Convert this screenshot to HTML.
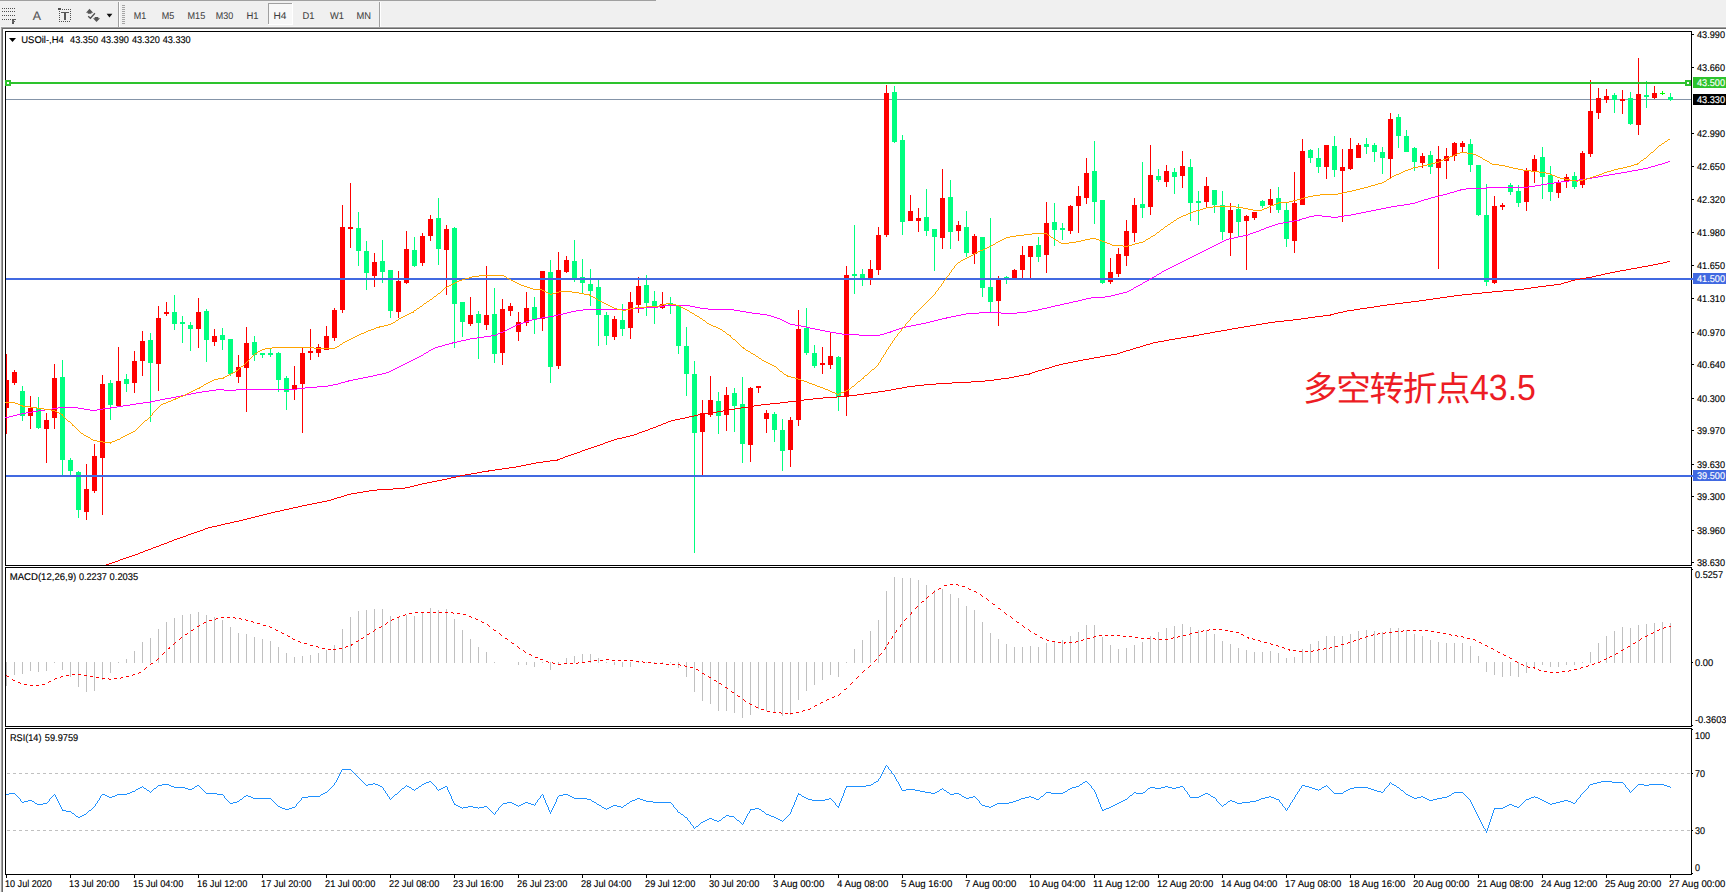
<!DOCTYPE html>
<html lang="zh"><head><meta charset="utf-8"><title>USOil H4</title>
<style>html,body{margin:0;padding:0;background:#fff;overflow:hidden}svg{display:block}text{font-family:"Liberation Sans", sans-serif;white-space:pre;text-rendering:geometricPrecision}</style>
</head><body>
<svg width="1726" height="892" viewBox="0 0 1726 892">
<rect width="1726" height="892" fill="#ffffff"/>
<g shape-rendering="crispEdges">
<rect x="0" y="0" width="1726" height="27" fill="#f0f0f0"/>
<rect x="0" y="0" width="656" height="1" fill="#a0a0a0"/>
<rect x="0" y="26" width="1726" height="1" fill="#f6f6f6"/>
<rect x="0" y="27" width="1726" height="1" fill="#a0a0a0"/>
<rect x="0" y="28" width="1726" height="1" fill="#696969"/>
<rect x="0" y="27" width="1" height="865" fill="#f0f0f0"/>
<rect x="1" y="27" width="1" height="865" fill="#a0a0a0"/>
<rect x="2" y="28" width="1" height="864" fill="#696969"/>
<rect x="118" y="2" width="1" height="25" fill="#a0a0a0"/>
<rect x="119" y="2" width="1" height="25" fill="#ffffff"/>
<rect x="379" y="2" width="1" height="25" fill="#a0a0a0"/>
<rect x="380" y="2" width="1" height="25" fill="#ffffff"/>
<rect x="122" y="5" width="3" height="1" fill="#a4a4a4"/>
<rect x="122" y="7" width="3" height="1" fill="#a4a4a4"/>
<rect x="122" y="9" width="3" height="1" fill="#a4a4a4"/>
<rect x="122" y="11" width="3" height="1" fill="#a4a4a4"/>
<rect x="122" y="13" width="3" height="1" fill="#a4a4a4"/>
<rect x="122" y="15" width="3" height="1" fill="#a4a4a4"/>
<rect x="122" y="17" width="3" height="1" fill="#a4a4a4"/>
<rect x="122" y="19" width="3" height="1" fill="#a4a4a4"/>
<rect x="122" y="21" width="3" height="1" fill="#a4a4a4"/>
<rect x="122" y="23" width="3" height="1" fill="#a4a4a4"/>
<rect x="268" y="3" width="25" height="22" fill="#f8f8f8"/>
<rect x="268" y="3" width="25" height="1" fill="#a0a0a0"/>
<rect x="268" y="3" width="1" height="22" fill="#a0a0a0"/>
<rect x="292" y="3" width="1" height="22" fill="#ffffff"/>
<rect x="268" y="24" width="25" height="1" fill="#ffffff"/>
</g>
<g shape-rendering="crispEdges" fill="#505050">
<rect x="2" y="8" width="1" height="1"/>
<rect x="4" y="8" width="1" height="1"/>
<rect x="6" y="8" width="1" height="1"/>
<rect x="8" y="8" width="1" height="1"/>
<rect x="10" y="8" width="1" height="1"/>
<rect x="12" y="8" width="1" height="1"/>
<rect x="14" y="8" width="1" height="1"/>
<rect x="2" y="11" width="1" height="1"/>
<rect x="4" y="11" width="1" height="1"/>
<rect x="6" y="11" width="1" height="1"/>
<rect x="8" y="11" width="1" height="1"/>
<rect x="10" y="11" width="1" height="1"/>
<rect x="12" y="11" width="1" height="1"/>
<rect x="14" y="11" width="1" height="1"/>
<rect x="2" y="15" width="1" height="1"/>
<rect x="4" y="15" width="1" height="1"/>
<rect x="6" y="15" width="1" height="1"/>
<rect x="8" y="15" width="1" height="1"/>
<rect x="10" y="15" width="1" height="1"/>
<rect x="12" y="15" width="1" height="1"/>
<rect x="14" y="15" width="1" height="1"/>
<rect x="2" y="19" width="1" height="1"/>
<rect x="4" y="19" width="1" height="1"/>
<rect x="6" y="19" width="1" height="1"/>
<rect x="8" y="19" width="1" height="1"/>
<rect x="10" y="19" width="1" height="1"/>
<rect x="12" y="19" width="2" height="5" fill="#585858"/><rect x="12" y="19" width="4" height="1" fill="#585858"/><rect x="12" y="21" width="3" height="1" fill="#686868"/>
<rect x="62" y="9" width="1" height="1"/>
<rect x="64" y="9" width="1" height="1"/>
<rect x="66" y="9" width="1" height="1"/>
<rect x="68" y="9" width="1" height="1"/>
<rect x="70" y="9" width="1" height="1"/>
<rect x="58" y="8" width="3" height="2"/>
<rect x="59" y="11" width="1" height="1"/>
<rect x="59" y="13" width="1" height="1"/>
<rect x="59" y="15" width="1" height="1"/>
<rect x="59" y="17" width="1" height="1"/>
<rect x="59" y="19" width="1" height="1"/>
<rect x="59" y="21" width="1" height="1"/>
<rect x="70" y="11" width="1" height="1"/>
<rect x="70" y="13" width="1" height="1"/>
<rect x="70" y="15" width="1" height="1"/>
<rect x="70" y="17" width="1" height="1"/>
<rect x="70" y="19" width="1" height="1"/>
<rect x="61" y="21" width="1" height="1"/>
<rect x="63" y="21" width="1" height="1"/>
<rect x="65" y="21" width="1" height="1"/>
<rect x="67" y="21" width="1" height="1"/>
<rect x="69" y="21" width="1" height="1"/>
<rect x="61" y="12" width="8" height="1" fill="#585858"/><rect x="64" y="12" width="2" height="8" fill="#585858"/>
</g>
<path d="M89.5 8.8 L93.2 12.7 L91.4 12.7 L91.4 13.8 L87.8 13.8 L87.8 12.7 L86 12.7 Z" fill="#555"/>
<path d="M96.5 21.9 L100.1 18.2 L98.3 18.2 L98.3 17.1 L94.7 17.1 L94.7 18.2 L93 18.2 Z" fill="#555"/>
<path d="M88.2 16.2 L90.4 18.3 L94.9 13.2" fill="none" stroke="#505050" stroke-width="1.3"/>
<path d="M106.6 13.8 L112.4 13.8 L109.5 17.4 Z" fill="#111"/>
<text x="32.8" y="20.0" fill="#555555" stroke="#555555" stroke-width="0.14" font-size="12.3px" text-anchor="start">A</text>
<text x="133.7" y="19" fill="#404040" stroke="#404040" stroke-width="0.05" font-size="9.8px" text-anchor="start" textLength="12.5" lengthAdjust="spacingAndGlyphs">M1</text>
<text x="161.7" y="19" fill="#404040" stroke="#404040" stroke-width="0.05" font-size="9.8px" text-anchor="start" textLength="12.5" lengthAdjust="spacingAndGlyphs">M5</text>
<text x="187.5" y="19" fill="#404040" stroke="#404040" stroke-width="0.05" font-size="9.8px" text-anchor="start" textLength="17.7" lengthAdjust="spacingAndGlyphs">M15</text>
<text x="215.8" y="19" fill="#404040" stroke="#404040" stroke-width="0.05" font-size="9.8px" text-anchor="start" textLength="17.4" lengthAdjust="spacingAndGlyphs">M30</text>
<text x="246.4" y="19" fill="#404040" stroke="#404040" stroke-width="0.05" font-size="9.8px" text-anchor="start" textLength="12.1" lengthAdjust="spacingAndGlyphs">H1</text>
<text x="273.5" y="19" fill="#404040" stroke="#404040" stroke-width="0.05" font-size="9.8px" text-anchor="start" textLength="13.0" lengthAdjust="spacingAndGlyphs">H4</text>
<text x="302.5" y="19" fill="#404040" stroke="#404040" stroke-width="0.05" font-size="9.8px" text-anchor="start" textLength="12.0" lengthAdjust="spacingAndGlyphs">D1</text>
<text x="330" y="19" fill="#404040" stroke="#404040" stroke-width="0.05" font-size="9.8px" text-anchor="start" textLength="14" lengthAdjust="spacingAndGlyphs">W1</text>
<text x="356.5" y="19" fill="#404040" stroke="#404040" stroke-width="0.05" font-size="9.8px" text-anchor="start" textLength="14.5" lengthAdjust="spacingAndGlyphs">MN</text>
<g shape-rendering="crispEdges" fill="none" stroke="#000" stroke-width="1">
<rect x="5.5" y="31.5" width="1686" height="534"/>
<rect x="5.5" y="567.5" width="1686" height="159"/>
<rect x="5.5" y="728.5" width="1686" height="146"/>
</g>
<g shape-rendering="crispEdges">
<rect x="6" y="99" width="1685" height="1" fill="#8494a8"/>
</g>
<g shape-rendering="crispEdges">
<rect x="6" y="354" width="1" height="80" fill="#ff0000"/><rect x="6" y="380" width="3" height="28" fill="#ff0000"/>
<rect x="14" y="370" width="1" height="15" fill="#ff0000"/><rect x="12" y="372" width="5" height="11" fill="#ff0000"/>
<rect x="22" y="386" width="1" height="35" fill="#00ff7f"/><rect x="20" y="391" width="5" height="25" fill="#00ff7f"/>
<rect x="30" y="396" width="1" height="33" fill="#ff0000"/><rect x="28" y="408" width="5" height="8" fill="#ff0000"/>
<rect x="38" y="397" width="1" height="32" fill="#00ff7f"/><rect x="36" y="408" width="5" height="20" fill="#00ff7f"/>
<rect x="46" y="413" width="1" height="50" fill="#ff0000"/><rect x="44" y="420" width="5" height="9" fill="#ff0000"/>
<rect x="54" y="364" width="1" height="65" fill="#ff0000"/><rect x="52" y="378" width="5" height="40" fill="#ff0000"/>
<rect x="62" y="360" width="1" height="115" fill="#00ff7f"/><rect x="60" y="377" width="5" height="83" fill="#00ff7f"/>
<rect x="70" y="458" width="1" height="17" fill="#00ff7f"/><rect x="68" y="460" width="5" height="11" fill="#00ff7f"/>
<rect x="78" y="471" width="1" height="47" fill="#00ff7f"/><rect x="76" y="472" width="5" height="38" fill="#00ff7f"/>
<rect x="86" y="464" width="1" height="56" fill="#ff0000"/><rect x="84" y="489" width="5" height="23" fill="#ff0000"/>
<rect x="94" y="444" width="1" height="49" fill="#ff0000"/><rect x="92" y="456" width="5" height="35" fill="#ff0000"/>
<rect x="102" y="375" width="1" height="140" fill="#ff0000"/><rect x="100" y="384" width="5" height="74" fill="#ff0000"/>
<rect x="110" y="380" width="1" height="40" fill="#00ff7f"/><rect x="108" y="383" width="5" height="22" fill="#00ff7f"/>
<rect x="118" y="347" width="1" height="59" fill="#ff0000"/><rect x="116" y="381" width="5" height="25" fill="#ff0000"/>
<rect x="126" y="374" width="1" height="18" fill="#00ff7f"/><rect x="124" y="379" width="5" height="5" fill="#00ff7f"/>
<rect x="134" y="351" width="1" height="42" fill="#ff0000"/><rect x="132" y="361" width="5" height="22" fill="#ff0000"/>
<rect x="142" y="331" width="1" height="45" fill="#ff0000"/><rect x="140" y="341" width="5" height="20" fill="#ff0000"/>
<rect x="150" y="333" width="1" height="89" fill="#00ff7f"/><rect x="148" y="340" width="5" height="23" fill="#00ff7f"/>
<rect x="158" y="306" width="1" height="85" fill="#ff0000"/><rect x="156" y="318" width="5" height="46" fill="#ff0000"/>
<rect x="166" y="302" width="1" height="14" fill="#ff0000"/><rect x="164" y="312" width="5" height="2" fill="#ff0000"/>
<rect x="174" y="295" width="1" height="35" fill="#00ff7f"/><rect x="172" y="312" width="5" height="12" fill="#00ff7f"/>
<rect x="182" y="316" width="1" height="27" fill="#00ff7f"/><rect x="180" y="322" width="5" height="2" fill="#00ff7f"/>
<rect x="190" y="322" width="1" height="29" fill="#00ff7f"/><rect x="188" y="325" width="5" height="4" fill="#00ff7f"/>
<rect x="198" y="298" width="1" height="50" fill="#ff0000"/><rect x="196" y="312" width="5" height="17" fill="#ff0000"/>
<rect x="206" y="309" width="1" height="53" fill="#00ff7f"/><rect x="204" y="311" width="5" height="29" fill="#00ff7f"/>
<rect x="214" y="329" width="1" height="17" fill="#ff0000"/><rect x="212" y="336" width="5" height="6" fill="#ff0000"/>
<rect x="222" y="328" width="1" height="22" fill="#00ff7f"/><rect x="220" y="335" width="5" height="5" fill="#00ff7f"/>
<rect x="230" y="339" width="1" height="37" fill="#00ff7f"/><rect x="228" y="339" width="5" height="35" fill="#00ff7f"/>
<rect x="238" y="355" width="1" height="28" fill="#ff0000"/><rect x="236" y="367" width="5" height="10" fill="#ff0000"/>
<rect x="246" y="327" width="1" height="85" fill="#ff0000"/><rect x="244" y="343" width="5" height="25" fill="#ff0000"/>
<rect x="254" y="336" width="1" height="25" fill="#00ff7f"/><rect x="252" y="342" width="5" height="13" fill="#00ff7f"/>
<rect x="262" y="353" width="1" height="5" fill="#00ff7f"/><rect x="260" y="353" width="5" height="2" fill="#00ff7f"/>
<rect x="270" y="349" width="1" height="8" fill="#00ff7f"/><rect x="268" y="353" width="5" height="2" fill="#00ff7f"/>
<rect x="278" y="352" width="1" height="40" fill="#00ff7f"/><rect x="276" y="353" width="5" height="27" fill="#00ff7f"/>
<rect x="286" y="376" width="1" height="34" fill="#00ff7f"/><rect x="284" y="378" width="5" height="14" fill="#00ff7f"/>
<rect x="294" y="366" width="1" height="34" fill="#ff0000"/><rect x="292" y="385" width="5" height="5" fill="#ff0000"/>
<rect x="302" y="348" width="1" height="85" fill="#ff0000"/><rect x="300" y="353" width="5" height="31" fill="#ff0000"/>
<rect x="310" y="329" width="1" height="31" fill="#ff0000"/><rect x="308" y="351" width="5" height="2" fill="#ff0000"/>
<rect x="318" y="344" width="1" height="13" fill="#ff0000"/><rect x="316" y="347" width="5" height="6" fill="#ff0000"/>
<rect x="326" y="326" width="1" height="24" fill="#ff0000"/><rect x="324" y="336" width="5" height="14" fill="#ff0000"/>
<rect x="334" y="308" width="1" height="33" fill="#ff0000"/><rect x="332" y="310" width="5" height="28" fill="#ff0000"/>
<rect x="342" y="205" width="1" height="108" fill="#ff0000"/><rect x="340" y="227" width="5" height="83" fill="#ff0000"/>
<rect x="350" y="183" width="1" height="65" fill="#ff0000"/><rect x="348" y="227" width="5" height="2" fill="#ff0000"/>
<rect x="358" y="212" width="1" height="54" fill="#00ff7f"/><rect x="356" y="228" width="5" height="23" fill="#00ff7f"/>
<rect x="366" y="241" width="1" height="49" fill="#00ff7f"/><rect x="364" y="251" width="5" height="22" fill="#00ff7f"/>
<rect x="374" y="253" width="1" height="34" fill="#ff0000"/><rect x="372" y="262" width="5" height="14" fill="#ff0000"/>
<rect x="382" y="240" width="1" height="43" fill="#00ff7f"/><rect x="380" y="261" width="5" height="11" fill="#00ff7f"/>
<rect x="390" y="270" width="1" height="48" fill="#00ff7f"/><rect x="388" y="270" width="5" height="41" fill="#00ff7f"/>
<rect x="398" y="271" width="1" height="47" fill="#ff0000"/><rect x="396" y="281" width="5" height="31" fill="#ff0000"/>
<rect x="406" y="231" width="1" height="53" fill="#ff0000"/><rect x="404" y="249" width="5" height="34" fill="#ff0000"/>
<rect x="414" y="237" width="1" height="30" fill="#00ff7f"/><rect x="412" y="250" width="5" height="16" fill="#00ff7f"/>
<rect x="422" y="233" width="1" height="33" fill="#ff0000"/><rect x="420" y="236" width="5" height="27" fill="#ff0000"/>
<rect x="430" y="215" width="1" height="26" fill="#ff0000"/><rect x="428" y="219" width="5" height="17" fill="#ff0000"/>
<rect x="438" y="198" width="1" height="67" fill="#00ff7f"/><rect x="436" y="218" width="5" height="31" fill="#00ff7f"/>
<rect x="446" y="225" width="1" height="70" fill="#ff0000"/><rect x="444" y="229" width="5" height="21" fill="#ff0000"/>
<rect x="454" y="227" width="1" height="121" fill="#00ff7f"/><rect x="452" y="228" width="5" height="76" fill="#00ff7f"/>
<rect x="462" y="302" width="1" height="35" fill="#00ff7f"/><rect x="460" y="302" width="5" height="20" fill="#00ff7f"/>
<rect x="470" y="297" width="1" height="29" fill="#ff0000"/><rect x="468" y="315" width="5" height="9" fill="#ff0000"/>
<rect x="478" y="311" width="1" height="48" fill="#00ff7f"/><rect x="476" y="314" width="5" height="9" fill="#00ff7f"/>
<rect x="486" y="266" width="1" height="64" fill="#ff0000"/><rect x="484" y="315" width="5" height="10" fill="#ff0000"/>
<rect x="494" y="288" width="1" height="75" fill="#00ff7f"/><rect x="492" y="314" width="5" height="40" fill="#00ff7f"/>
<rect x="502" y="299" width="1" height="66" fill="#ff0000"/><rect x="500" y="309" width="5" height="44" fill="#ff0000"/>
<rect x="510" y="303" width="1" height="13" fill="#ff0000"/><rect x="508" y="306" width="5" height="5" fill="#ff0000"/>
<rect x="518" y="312" width="1" height="29" fill="#ff0000"/><rect x="516" y="322" width="5" height="10" fill="#ff0000"/>
<rect x="526" y="292" width="1" height="34" fill="#ff0000"/><rect x="524" y="308" width="5" height="15" fill="#ff0000"/>
<rect x="534" y="297" width="1" height="37" fill="#00ff7f"/><rect x="532" y="307" width="5" height="12" fill="#00ff7f"/>
<rect x="542" y="271" width="1" height="60" fill="#ff0000"/><rect x="540" y="271" width="5" height="48" fill="#ff0000"/>
<rect x="550" y="260" width="1" height="123" fill="#00ff7f"/><rect x="548" y="272" width="5" height="95" fill="#00ff7f"/>
<rect x="558" y="252" width="1" height="117" fill="#ff0000"/><rect x="556" y="270" width="5" height="96" fill="#ff0000"/>
<rect x="566" y="256" width="1" height="17" fill="#ff0000"/><rect x="564" y="260" width="5" height="12" fill="#ff0000"/>
<rect x="574" y="240" width="1" height="42" fill="#00ff7f"/><rect x="572" y="261" width="5" height="17" fill="#00ff7f"/>
<rect x="582" y="259" width="1" height="34" fill="#00ff7f"/><rect x="580" y="277" width="5" height="6" fill="#00ff7f"/>
<rect x="590" y="269" width="1" height="37" fill="#00ff7f"/><rect x="588" y="284" width="5" height="7" fill="#00ff7f"/>
<rect x="598" y="280" width="1" height="66" fill="#00ff7f"/><rect x="596" y="287" width="5" height="28" fill="#00ff7f"/>
<rect x="606" y="312" width="1" height="33" fill="#00ff7f"/><rect x="604" y="315" width="5" height="21" fill="#00ff7f"/>
<rect x="614" y="316" width="1" height="24" fill="#ff0000"/><rect x="612" y="319" width="5" height="18" fill="#ff0000"/>
<rect x="622" y="304" width="1" height="32" fill="#00ff7f"/><rect x="620" y="320" width="5" height="9" fill="#00ff7f"/>
<rect x="630" y="292" width="1" height="47" fill="#ff0000"/><rect x="628" y="302" width="5" height="26" fill="#ff0000"/>
<rect x="638" y="277" width="1" height="36" fill="#ff0000"/><rect x="636" y="286" width="5" height="19" fill="#ff0000"/>
<rect x="646" y="275" width="1" height="41" fill="#00ff7f"/><rect x="644" y="285" width="5" height="18" fill="#00ff7f"/>
<rect x="654" y="291" width="1" height="33" fill="#00ff7f"/><rect x="652" y="301" width="5" height="5" fill="#00ff7f"/>
<rect x="662" y="292" width="1" height="17" fill="#ff0000"/><rect x="660" y="304" width="5" height="4" fill="#ff0000"/>
<rect x="670" y="297" width="1" height="17" fill="#00ff7f"/><rect x="668" y="303" width="5" height="2" fill="#00ff7f"/>
<rect x="678" y="305" width="1" height="49" fill="#00ff7f"/><rect x="676" y="305" width="5" height="41" fill="#00ff7f"/>
<rect x="686" y="327" width="1" height="69" fill="#00ff7f"/><rect x="684" y="346" width="5" height="28" fill="#00ff7f"/>
<rect x="694" y="361" width="1" height="192" fill="#00ff7f"/><rect x="692" y="374" width="5" height="59" fill="#00ff7f"/>
<rect x="702" y="400" width="1" height="75" fill="#ff0000"/><rect x="700" y="413" width="5" height="19" fill="#ff0000"/>
<rect x="710" y="376" width="1" height="41" fill="#ff0000"/><rect x="708" y="400" width="5" height="15" fill="#ff0000"/>
<rect x="718" y="392" width="1" height="42" fill="#00ff7f"/><rect x="716" y="401" width="5" height="15" fill="#00ff7f"/>
<rect x="726" y="387" width="1" height="44" fill="#ff0000"/><rect x="724" y="395" width="5" height="20" fill="#ff0000"/>
<rect x="734" y="388" width="1" height="44" fill="#00ff7f"/><rect x="732" y="393" width="5" height="13" fill="#00ff7f"/>
<rect x="742" y="377" width="1" height="86" fill="#00ff7f"/><rect x="740" y="404" width="5" height="40" fill="#00ff7f"/>
<rect x="750" y="387" width="1" height="75" fill="#ff0000"/><rect x="748" y="388" width="5" height="57" fill="#ff0000"/>
<rect x="758" y="386" width="1" height="7" fill="#ff0000"/><rect x="756" y="386" width="5" height="2" fill="#ff0000"/>
<rect x="766" y="410" width="1" height="23" fill="#ff0000"/><rect x="764" y="413" width="5" height="6" fill="#ff0000"/>
<rect x="774" y="412" width="1" height="30" fill="#00ff7f"/><rect x="772" y="414" width="5" height="16" fill="#00ff7f"/>
<rect x="782" y="419" width="1" height="52" fill="#00ff7f"/><rect x="780" y="430" width="5" height="21" fill="#00ff7f"/>
<rect x="790" y="417" width="1" height="50" fill="#ff0000"/><rect x="788" y="420" width="5" height="30" fill="#ff0000"/>
<rect x="798" y="310" width="1" height="116" fill="#ff0000"/><rect x="796" y="329" width="5" height="91" fill="#ff0000"/>
<rect x="806" y="308" width="1" height="47" fill="#00ff7f"/><rect x="804" y="328" width="5" height="25" fill="#00ff7f"/>
<rect x="814" y="345" width="1" height="23" fill="#00ff7f"/><rect x="812" y="353" width="5" height="13" fill="#00ff7f"/>
<rect x="822" y="347" width="1" height="27" fill="#ff0000"/><rect x="820" y="363" width="5" height="2" fill="#ff0000"/>
<rect x="830" y="332" width="1" height="37" fill="#ff0000"/><rect x="828" y="356" width="5" height="9" fill="#ff0000"/>
<rect x="838" y="356" width="1" height="55" fill="#00ff7f"/><rect x="836" y="357" width="5" height="40" fill="#00ff7f"/>
<rect x="846" y="266" width="1" height="150" fill="#ff0000"/><rect x="844" y="275" width="5" height="121" fill="#ff0000"/>
<rect x="854" y="225" width="1" height="69" fill="#00ff7f"/><rect x="852" y="274" width="5" height="2" fill="#00ff7f"/>
<rect x="862" y="269" width="1" height="17" fill="#00ff7f"/><rect x="860" y="274" width="5" height="5" fill="#00ff7f"/>
<rect x="870" y="260" width="1" height="25" fill="#ff0000"/><rect x="868" y="269" width="5" height="10" fill="#ff0000"/>
<rect x="878" y="227" width="1" height="48" fill="#ff0000"/><rect x="876" y="235" width="5" height="35" fill="#ff0000"/>
<rect x="886" y="85" width="1" height="152" fill="#ff0000"/><rect x="884" y="93" width="5" height="142" fill="#ff0000"/>
<rect x="894" y="86" width="1" height="57" fill="#00ff7f"/><rect x="892" y="92" width="5" height="50" fill="#00ff7f"/>
<rect x="902" y="135" width="1" height="100" fill="#00ff7f"/><rect x="900" y="140" width="5" height="82" fill="#00ff7f"/>
<rect x="910" y="195" width="1" height="26" fill="#ff0000"/><rect x="908" y="211" width="5" height="10" fill="#ff0000"/>
<rect x="918" y="208" width="1" height="24" fill="#ff0000"/><rect x="916" y="218" width="5" height="3" fill="#ff0000"/>
<rect x="926" y="189" width="1" height="47" fill="#00ff7f"/><rect x="924" y="217" width="5" height="14" fill="#00ff7f"/>
<rect x="934" y="229" width="1" height="42" fill="#00ff7f"/><rect x="932" y="229" width="5" height="8" fill="#00ff7f"/>
<rect x="942" y="169" width="1" height="80" fill="#ff0000"/><rect x="940" y="198" width="5" height="40" fill="#ff0000"/>
<rect x="950" y="180" width="1" height="69" fill="#00ff7f"/><rect x="948" y="197" width="5" height="35" fill="#00ff7f"/>
<rect x="958" y="221" width="1" height="20" fill="#ff0000"/><rect x="956" y="225" width="5" height="6" fill="#ff0000"/>
<rect x="966" y="211" width="1" height="46" fill="#00ff7f"/><rect x="964" y="227" width="5" height="26" fill="#00ff7f"/>
<rect x="974" y="234" width="1" height="30" fill="#ff0000"/><rect x="972" y="236" width="5" height="18" fill="#ff0000"/>
<rect x="982" y="237" width="1" height="60" fill="#00ff7f"/><rect x="980" y="237" width="5" height="51" fill="#00ff7f"/>
<rect x="990" y="218" width="1" height="94" fill="#00ff7f"/><rect x="988" y="287" width="5" height="15" fill="#00ff7f"/>
<rect x="998" y="276" width="1" height="50" fill="#ff0000"/><rect x="996" y="279" width="5" height="22" fill="#ff0000"/>
<rect x="1006" y="276" width="1" height="8" fill="#00ff7f"/><rect x="1004" y="277" width="5" height="2" fill="#00ff7f"/>
<rect x="1014" y="269" width="1" height="10" fill="#ff0000"/><rect x="1012" y="270" width="5" height="9" fill="#ff0000"/>
<rect x="1022" y="246" width="1" height="33" fill="#ff0000"/><rect x="1020" y="255" width="5" height="15" fill="#ff0000"/>
<rect x="1030" y="246" width="1" height="33" fill="#ff0000"/><rect x="1028" y="246" width="5" height="11" fill="#ff0000"/>
<rect x="1038" y="237" width="1" height="25" fill="#00ff7f"/><rect x="1036" y="245" width="5" height="12" fill="#00ff7f"/>
<rect x="1046" y="202" width="1" height="71" fill="#ff0000"/><rect x="1044" y="223" width="5" height="32" fill="#ff0000"/>
<rect x="1054" y="203" width="1" height="43" fill="#00ff7f"/><rect x="1052" y="222" width="5" height="8" fill="#00ff7f"/>
<rect x="1062" y="223" width="1" height="17" fill="#00ff7f"/><rect x="1060" y="228" width="5" height="2" fill="#00ff7f"/>
<rect x="1070" y="205" width="1" height="29" fill="#ff0000"/><rect x="1068" y="206" width="5" height="25" fill="#ff0000"/>
<rect x="1078" y="186" width="1" height="47" fill="#ff0000"/><rect x="1076" y="196" width="5" height="10" fill="#ff0000"/>
<rect x="1086" y="158" width="1" height="46" fill="#ff0000"/><rect x="1084" y="173" width="5" height="25" fill="#ff0000"/>
<rect x="1094" y="141" width="1" height="83" fill="#00ff7f"/><rect x="1092" y="171" width="5" height="31" fill="#00ff7f"/>
<rect x="1102" y="200" width="1" height="84" fill="#00ff7f"/><rect x="1100" y="200" width="5" height="83" fill="#00ff7f"/>
<rect x="1110" y="258" width="1" height="26" fill="#ff0000"/><rect x="1108" y="272" width="5" height="10" fill="#ff0000"/>
<rect x="1118" y="248" width="1" height="29" fill="#ff0000"/><rect x="1116" y="254" width="5" height="20" fill="#ff0000"/>
<rect x="1126" y="220" width="1" height="46" fill="#ff0000"/><rect x="1124" y="231" width="5" height="25" fill="#ff0000"/>
<rect x="1134" y="198" width="1" height="44" fill="#ff0000"/><rect x="1132" y="205" width="5" height="28" fill="#ff0000"/>
<rect x="1142" y="162" width="1" height="56" fill="#00ff7f"/><rect x="1140" y="204" width="5" height="4" fill="#00ff7f"/>
<rect x="1150" y="145" width="1" height="70" fill="#ff0000"/><rect x="1148" y="175" width="5" height="32" fill="#ff0000"/>
<rect x="1158" y="169" width="1" height="13" fill="#00ff7f"/><rect x="1156" y="176" width="5" height="4" fill="#00ff7f"/>
<rect x="1166" y="165" width="1" height="22" fill="#ff0000"/><rect x="1164" y="171" width="5" height="11" fill="#ff0000"/>
<rect x="1174" y="168" width="1" height="26" fill="#00ff7f"/><rect x="1172" y="172" width="5" height="5" fill="#00ff7f"/>
<rect x="1182" y="151" width="1" height="37" fill="#ff0000"/><rect x="1180" y="166" width="5" height="10" fill="#ff0000"/>
<rect x="1190" y="159" width="1" height="62" fill="#00ff7f"/><rect x="1188" y="167" width="5" height="36" fill="#00ff7f"/>
<rect x="1198" y="191" width="1" height="34" fill="#00ff7f"/><rect x="1196" y="201" width="5" height="2" fill="#00ff7f"/>
<rect x="1206" y="177" width="1" height="31" fill="#ff0000"/><rect x="1204" y="186" width="5" height="16" fill="#ff0000"/>
<rect x="1214" y="190" width="1" height="23" fill="#00ff7f"/><rect x="1212" y="190" width="5" height="15" fill="#00ff7f"/>
<rect x="1222" y="191" width="1" height="49" fill="#00ff7f"/><rect x="1220" y="205" width="5" height="27" fill="#00ff7f"/>
<rect x="1230" y="203" width="1" height="53" fill="#ff0000"/><rect x="1228" y="210" width="5" height="23" fill="#ff0000"/>
<rect x="1238" y="204" width="1" height="32" fill="#00ff7f"/><rect x="1236" y="209" width="5" height="13" fill="#00ff7f"/>
<rect x="1246" y="215" width="1" height="55" fill="#ff0000"/><rect x="1244" y="216" width="5" height="5" fill="#ff0000"/>
<rect x="1254" y="212" width="1" height="8" fill="#ff0000"/><rect x="1252" y="212" width="5" height="6" fill="#ff0000"/>
<rect x="1262" y="200" width="1" height="8" fill="#00ff7f"/><rect x="1260" y="201" width="5" height="5" fill="#00ff7f"/>
<rect x="1270" y="189" width="1" height="24" fill="#ff0000"/><rect x="1268" y="199" width="5" height="6" fill="#ff0000"/>
<rect x="1278" y="187" width="1" height="26" fill="#00ff7f"/><rect x="1276" y="198" width="5" height="12" fill="#00ff7f"/>
<rect x="1286" y="203" width="1" height="44" fill="#00ff7f"/><rect x="1284" y="210" width="5" height="29" fill="#00ff7f"/>
<rect x="1294" y="172" width="1" height="81" fill="#ff0000"/><rect x="1292" y="203" width="5" height="38" fill="#ff0000"/>
<rect x="1302" y="139" width="1" height="66" fill="#ff0000"/><rect x="1300" y="151" width="5" height="54" fill="#ff0000"/>
<rect x="1310" y="149" width="1" height="14" fill="#00ff7f"/><rect x="1308" y="150" width="5" height="8" fill="#00ff7f"/>
<rect x="1318" y="148" width="1" height="25" fill="#00ff7f"/><rect x="1316" y="158" width="5" height="9" fill="#00ff7f"/>
<rect x="1326" y="145" width="1" height="34" fill="#ff0000"/><rect x="1324" y="145" width="5" height="22" fill="#ff0000"/>
<rect x="1334" y="136" width="1" height="41" fill="#00ff7f"/><rect x="1332" y="146" width="5" height="24" fill="#00ff7f"/>
<rect x="1342" y="149" width="1" height="73" fill="#ff0000"/><rect x="1340" y="167" width="5" height="4" fill="#ff0000"/>
<rect x="1350" y="138" width="1" height="32" fill="#ff0000"/><rect x="1348" y="149" width="5" height="20" fill="#ff0000"/>
<rect x="1358" y="143" width="1" height="15" fill="#ff0000"/><rect x="1356" y="145" width="5" height="13" fill="#ff0000"/>
<rect x="1366" y="138" width="1" height="16" fill="#00ff7f"/><rect x="1364" y="144" width="5" height="3" fill="#00ff7f"/>
<rect x="1374" y="143" width="1" height="19" fill="#00ff7f"/><rect x="1372" y="145" width="5" height="7" fill="#00ff7f"/>
<rect x="1382" y="147" width="1" height="27" fill="#00ff7f"/><rect x="1380" y="152" width="5" height="6" fill="#00ff7f"/>
<rect x="1390" y="113" width="1" height="65" fill="#ff0000"/><rect x="1388" y="119" width="5" height="40" fill="#ff0000"/>
<rect x="1398" y="114" width="1" height="34" fill="#00ff7f"/><rect x="1396" y="117" width="5" height="19" fill="#00ff7f"/>
<rect x="1406" y="130" width="1" height="22" fill="#00ff7f"/><rect x="1404" y="136" width="5" height="16" fill="#00ff7f"/>
<rect x="1414" y="147" width="1" height="24" fill="#00ff7f"/><rect x="1412" y="148" width="5" height="14" fill="#00ff7f"/>
<rect x="1422" y="153" width="1" height="15" fill="#ff0000"/><rect x="1420" y="156" width="5" height="7" fill="#ff0000"/>
<rect x="1430" y="151" width="1" height="23" fill="#00ff7f"/><rect x="1428" y="155" width="5" height="12" fill="#00ff7f"/>
<rect x="1438" y="146" width="1" height="123" fill="#ff0000"/><rect x="1436" y="159" width="5" height="9" fill="#ff0000"/>
<rect x="1446" y="148" width="1" height="31" fill="#ff0000"/><rect x="1444" y="156" width="5" height="5" fill="#ff0000"/>
<rect x="1454" y="142" width="1" height="19" fill="#ff0000"/><rect x="1452" y="143" width="5" height="13" fill="#ff0000"/>
<rect x="1462" y="141" width="1" height="12" fill="#ff0000"/><rect x="1460" y="143" width="5" height="4" fill="#ff0000"/>
<rect x="1470" y="139" width="1" height="33" fill="#00ff7f"/><rect x="1468" y="144" width="5" height="21" fill="#00ff7f"/>
<rect x="1478" y="165" width="1" height="51" fill="#00ff7f"/><rect x="1476" y="165" width="5" height="50" fill="#00ff7f"/>
<rect x="1486" y="184" width="1" height="102" fill="#00ff7f"/><rect x="1484" y="215" width="5" height="67" fill="#00ff7f"/>
<rect x="1494" y="196" width="1" height="88" fill="#ff0000"/><rect x="1492" y="206" width="5" height="77" fill="#ff0000"/>
<rect x="1502" y="203" width="1" height="7" fill="#ff0000"/><rect x="1500" y="205" width="5" height="2" fill="#ff0000"/>
<rect x="1510" y="183" width="1" height="12" fill="#00ff7f"/><rect x="1508" y="185" width="5" height="7" fill="#00ff7f"/>
<rect x="1518" y="185" width="1" height="22" fill="#00ff7f"/><rect x="1516" y="191" width="5" height="12" fill="#00ff7f"/>
<rect x="1526" y="168" width="1" height="43" fill="#ff0000"/><rect x="1524" y="171" width="5" height="31" fill="#ff0000"/>
<rect x="1534" y="155" width="1" height="28" fill="#ff0000"/><rect x="1532" y="159" width="5" height="13" fill="#ff0000"/>
<rect x="1542" y="147" width="1" height="52" fill="#00ff7f"/><rect x="1540" y="157" width="5" height="20" fill="#00ff7f"/>
<rect x="1550" y="166" width="1" height="35" fill="#00ff7f"/><rect x="1548" y="175" width="5" height="17" fill="#00ff7f"/>
<rect x="1558" y="180" width="1" height="18" fill="#ff0000"/><rect x="1556" y="183" width="5" height="10" fill="#ff0000"/>
<rect x="1566" y="174" width="1" height="14" fill="#ff0000"/><rect x="1564" y="177" width="5" height="5" fill="#ff0000"/>
<rect x="1574" y="172" width="1" height="17" fill="#00ff7f"/><rect x="1572" y="176" width="5" height="11" fill="#00ff7f"/>
<rect x="1582" y="151" width="1" height="37" fill="#ff0000"/><rect x="1580" y="153" width="5" height="32" fill="#ff0000"/>
<rect x="1590" y="80" width="1" height="77" fill="#ff0000"/><rect x="1588" y="111" width="5" height="43" fill="#ff0000"/>
<rect x="1598" y="88" width="1" height="31" fill="#ff0000"/><rect x="1596" y="98" width="5" height="15" fill="#ff0000"/>
<rect x="1606" y="89" width="1" height="14" fill="#ff0000"/><rect x="1604" y="96" width="5" height="4" fill="#ff0000"/>
<rect x="1614" y="93" width="1" height="20" fill="#00ff7f"/><rect x="1612" y="95" width="5" height="5" fill="#00ff7f"/>
<rect x="1622" y="90" width="1" height="24" fill="#ff0000"/><rect x="1620" y="99" width="5" height="2" fill="#ff0000"/>
<rect x="1630" y="92" width="1" height="33" fill="#00ff7f"/><rect x="1628" y="98" width="5" height="26" fill="#00ff7f"/>
<rect x="1638" y="58" width="1" height="77" fill="#ff0000"/><rect x="1636" y="94" width="5" height="31" fill="#ff0000"/>
<rect x="1646" y="81" width="1" height="27" fill="#00ff7f"/><rect x="1644" y="95" width="5" height="2" fill="#00ff7f"/>
<rect x="1654" y="86" width="1" height="13" fill="#ff0000"/><rect x="1652" y="93" width="5" height="5" fill="#ff0000"/>
<rect x="1662" y="91" width="1" height="4" fill="#00ff00"/><rect x="1660" y="93" width="5" height="1" fill="#00ff00"/>
<rect x="1670" y="93" width="1" height="8" fill="#00ff7f"/><rect x="1668" y="97" width="5" height="3" fill="#00ff7f"/>
</g>
<g shape-rendering="crispEdges">
<rect x="6" y="82" width="1685" height="2" fill="#2dc32d"/>
<rect x="6" y="278" width="1687" height="2" fill="#4169e1"/>
<rect x="6" y="475" width="1687" height="2" fill="#4169e1"/>
</g>
<path d="M1667 261.5h3M1663 262.5h4M1658 263.5h5M1653 264.5h5M1648 265.5h5M1642 266.5h6M1637 267.5h5M1631 268.5h6M1626 269.5h5M1620 270.5h6M1615 271.5h5M1610 272.5h5M1605 273.5h5M1601 274.5h4M1596 275.5h5M1592 276.5h4M1586 277.5h6M1580 278.5h6M1575 279.5h5M1571 280.5h4M1568 281.5h3M1564 282.5h4M1561 283.5h3M1554 284.5h7M1546 285.5h8M1538 286.5h8M1531 287.5h7M1524 288.5h7M1514 289.5h10M1503 290.5h11M1492 291.5h11M1482 292.5h10M1472 293.5h10M1462 294.5h10M1454 295.5h8M1447 296.5h7M1440 297.5h7M1433 298.5h7M1426 299.5h7M1419 300.5h7M1411 301.5h8M1403 302.5h8M1395 303.5h8M1387 304.5h8M1380 305.5h7M1374 306.5h6M1367 307.5h7M1360 308.5h7M1354 309.5h6M1347 310.5h7M1343 311.5h4M1338 312.5h5M1334 313.5h4M1330 314.5h4M1323 315.5h8M1315 316.5h8M1308 317.5h7M1301 318.5h7M1293 319.5h8M1284 320.5h9M1275 321.5h9M1268 322.5h7M1262 323.5h6M1256 324.5h6M1250 325.5h6M1244 326.5h6M1238 327.5h6M1232 328.5h6M1227 329.5h5M1221 330.5h6M1215 331.5h6M1210 332.5h5M1204 333.5h6M1199 334.5h5M1193 335.5h6M1187 336.5h7M1181 337.5h6M1175 338.5h6M1169 339.5h6M1164 340.5h5M1158 341.5h6M1153 342.5h5M1150 343.5h3M1146 344.5h4M1143 345.5h3M1140 346.5h3M1136 347.5h4M1133 348.5h3M1130 349.5h3M1126 350.5h4M1123 351.5h3M1120 352.5h3M1117 353.5h3M1111 354.5h6M1105 355.5h6M1100 356.5h5M1094 357.5h6M1089 358.5h5M1083 359.5h6M1078 360.5h5M1073 361.5h5M1068 362.5h5M1063 363.5h5M1059 364.5h4M1055 365.5h4M1052 366.5h3M1049 367.5h3M1045 368.5h4M1042 369.5h3M1038 370.5h4M1035 371.5h3M1032 372.5h3M1029 373.5h3M1024 374.5h6M1019 375.5h5M1014 376.5h5M1009 377.5h5M1001 378.5h8M994 379.5h7M985 380.5h9M971 381.5h14M952 382.5h19M936 383.5h16M924 384.5h12M915 385.5h9M907 386.5h8M902 387.5h5M896 388.5h6M891 389.5h5M885 390.5h6M878 391.5h7M871 392.5h7M864 393.5h7M857 394.5h7M849 395.5h8M837 396.5h12M823 397.5h14M813 398.5h10M804 399.5h9M796 400.5h8M788 401.5h8M780 402.5h8M770 403.5h10M761 404.5h9M754 405.5h7M748 406.5h6M741 407.5h7M735 408.5h6M729 409.5h6M723 410.5h6M717 411.5h6M710 412.5h7M703 413.5h7M698 414.5h5M694 415.5h4M689 416.5h5M685 417.5h4M680 418.5h5M675 419.5h5M671 420.5h4M668 421.5h3M666 422.5h2M663 423.5h3M661 424.5h2M658 425.5h3M656 426.5h2M653 427.5h3M650 428.5h3M648 429.5h2M645 430.5h3M642 431.5h3M639 432.5h3M637 433.5h2M634 434.5h3M630 435.5h4M626 436.5h4M622 437.5h4M617 438.5h5M614 439.5h3M611 440.5h3M608 441.5h3M605 442.5h3M603 443.5h2M600 444.5h3M597 445.5h3M594 446.5h3M591 447.5h3M588 448.5h3M585 449.5h3M582 450.5h3M580 451.5h2M577 452.5h3M574 453.5h3M571 454.5h3M568 455.5h3M565 456.5h3M563 457.5h2M560 458.5h3M557 459.5h3M550 460.5h8M543 461.5h7M536 462.5h7M531 463.5h5M526 464.5h5M521 465.5h5M516 466.5h5M509 467.5h7M502 468.5h7M495 469.5h7M488 470.5h7M482 471.5h7M477 472.5h5M471 473.5h6M465 474.5h6M460 475.5h5M456 476.5h4M451 477.5h5M447 478.5h4M442 479.5h5M437 480.5h5M432 481.5h5M427 482.5h5M422 483.5h5M418 484.5h4M414 485.5h4M410 486.5h4M405 487.5h5M393 488.5h12M377 489.5h16M369 490.5h8M363 491.5h6M357 492.5h6M351 493.5h6M347 494.5h4M344 495.5h3M341 496.5h3M337 497.5h4M334 498.5h3M331 499.5h3M327 500.5h4M322 501.5h5M317 502.5h5M312 503.5h5M307 504.5h5M302 505.5h5M298 506.5h4M293 507.5h5M289 508.5h4M284 509.5h5M280 510.5h4M275 511.5h5M271 512.5h4M267 513.5h4M263 514.5h4M259 515.5h4M255 516.5h4M251 517.5h4M247 518.5h4M243 519.5h4M239 520.5h4M234 521.5h5M230 522.5h4M225 523.5h5M221 524.5h4M217 525.5h4M212 526.5h5M208 527.5h4M205 528.5h3M203 529.5h2M200 530.5h3M197 531.5h3M194 532.5h3M191 533.5h3M188 534.5h3M186 535.5h2M183 536.5h3M180 537.5h3M177 538.5h3M174 539.5h3M172 540.5h2M169 541.5h3M167 542.5h2M164 543.5h3M161 544.5h3M159 545.5h2M156 546.5h3M153 547.5h3M151 548.5h2M148 549.5h3M145 550.5h3M143 551.5h2M140 552.5h3M138 553.5h2M135 554.5h3M132 555.5h3M129 556.5h3M126 557.5h3M123 558.5h3M120 559.5h3M118 560.5h2M115 561.5h3M112 562.5h3M109 563.5h3M106 564.5h3" fill="none" stroke="#ff0000" stroke-width="1" shape-rendering="crispEdges"/>
<path d="M1668 161.5h2M1665 162.5h3M1662 163.5h3M1658 164.5h4M1655 165.5h3M1651 166.5h4M1648 167.5h3M1643 168.5h5M1638 169.5h5M1632 170.5h6M1627 171.5h5M1621 172.5h6M1615 173.5h6M1609 174.5h6M1603 175.5h6M1598 176.5h5M1592 177.5h6M1586 178.5h6M1579 179.5h7M1569 180.5h10M1561 181.5h8M1554 182.5h7M1547 183.5h7M1541 184.5h6M1535 185.5h6M1528 186.5h7M1486 187.5h42M1466 188.5h21M1460 189.5h6M1457 190.5h4M1454 191.5h3M1450 192.5h4M1447 193.5h3M1443 194.5h4M1439 195.5h4M1435 196.5h4M1431 197.5h4M1428 198.5h3M1424 199.5h4M1421 200.5h3M1418 201.5h3M1415 202.5h3M1410 203.5h5M1404 204.5h6M1397 205.5h7M1391 206.5h6M1386 207.5h5M1381 208.5h5M1376 209.5h5M1371 210.5h5M1366 211.5h5M1361 212.5h5M1356 213.5h5M1351 214.5h5M1314 215.5h8M1344 215.5h7M1309 216.5h5M1322 216.5h9M1338 216.5h6M1306 217.5h3M1331 217.5h7M1302 218.5h4M1299 219.5h3M1294 220.5h6M1289 221.5h5M1283 222.5h6M1278 223.5h5M1275 224.5h3M1272 225.5h3M1269 226.5h3M1266 227.5h3M1264 228.5h2M1261 229.5h3M1259 230.5h2M1256 231.5h3M1253 232.5h3M1250 233.5h3M1248 234.5h2M1243 235.5h5M1238 236.5h5M1234 237.5h4M1229 238.5h5M1226 239.5h3M1224 240.5h2M1222 241.5h2M1220 242.5h2M1218 243.5h2M1216 244.5h2M1214 245.5h2M1212 246.5h2M1210 247.5h2M1208 248.5h2M1206 249.5h2M1204 250.5h2M1202 251.5h2M1200 252.5h2M1198 253.5h2M1196 254.5h2M1194 255.5h2M1192 256.5h2M1190 257.5h2M1188 258.5h2M1186 259.5h2M1184 260.5h2M1182 261.5h2M1180 262.5h2M1178 263.5h2M1176 264.5h2M1174 265.5h2M1172 266.5h2M1170 267.5h2M1168 268.5h2M1166 269.5h2M1164 270.5h2M1162 271.5h2M1161 272.5h1M1159 273.5h2M1157 274.5h2M1156 275.5h1M1154 276.5h2M1152 277.5h2M1150 278.5h2M1149 279.5h1M1147 280.5h2M1145 281.5h2M1143 282.5h2M1142 283.5h1M1140 284.5h2M1138 285.5h2M1136 286.5h2M1134 287.5h2M1133 288.5h1M1131 289.5h2M1129 290.5h2M1127 291.5h2M1123 292.5h4M1119 293.5h4M1115 294.5h4M1111 295.5h4M1105 296.5h6M1091 297.5h14M1086 298.5h5M1082 299.5h4M1078 300.5h4M1073 301.5h5M1069 302.5h4M1064 303.5h5M1060 304.5h4M664 305.5h26M1055 305.5h5M658 306.5h6M690 306.5h5M1051 306.5h4M644 307.5h14M695 307.5h5M1047 307.5h4M631 308.5h13M700 308.5h8M1042 308.5h5M583 309.5h48M708 309.5h26M1038 309.5h4M576 310.5h7M734 310.5h6M1032 310.5h6M571 311.5h5M740 311.5h6M1027 311.5h5M567 312.5h4M746 312.5h6M979 312.5h22M1017 312.5h10M563 313.5h4M752 313.5h8M966 313.5h13M1001 313.5h16M558 314.5h5M760 314.5h7M961 314.5h5M554 315.5h4M767 315.5h4M956 315.5h5M548 316.5h6M771 316.5h3M951 316.5h5M542 317.5h6M774 317.5h3M946 317.5h5M537 318.5h5M777 318.5h3M942 318.5h5M532 319.5h5M780 319.5h2M938 319.5h4M529 320.5h3M782 320.5h2M934 320.5h4M526 321.5h3M784 321.5h2M930 321.5h4M523 322.5h3M786 322.5h2M926 322.5h4M520 323.5h3M788 323.5h2M921 323.5h5M517 324.5h3M790 324.5h5M916 324.5h5M515 325.5h2M795 325.5h6M911 325.5h5M513 326.5h2M801 326.5h5M906 326.5h5M511 327.5h2M806 327.5h4M902 327.5h4M509 328.5h2M810 328.5h5M899 328.5h3M507 329.5h2M815 329.5h5M896 329.5h3M505 330.5h2M820 330.5h5M893 330.5h3M503 331.5h2M825 331.5h5M890 331.5h3M500 332.5h3M830 332.5h6M887 332.5h4M498 333.5h2M836 333.5h6M884 333.5h3M496 334.5h2M842 334.5h17M880 334.5h4M491 335.5h5M859 335.5h21M484 336.5h7M477 337.5h7M470 338.5h7M466 339.5h4M461 340.5h5M457 341.5h4M452 342.5h5M449 343.5h4M445 344.5h4M442 345.5h3M438 346.5h4M435 347.5h3M433 348.5h2M431 349.5h2M429 350.5h2M428 351.5h1M426 352.5h2M424 353.5h2M423 354.5h1M421 355.5h2M419 356.5h2M417 357.5h2M415 358.5h2M413 359.5h2M411 360.5h2M409 361.5h2M407 362.5h2M405 363.5h2M403 364.5h2M401 365.5h2M399 366.5h2M397 367.5h2M395 368.5h2M393 369.5h2M391 370.5h2M389 371.5h2M386 372.5h3M382 373.5h4M377 374.5h5M373 375.5h4M368 376.5h5M363 377.5h5M358 378.5h5M353 379.5h5M348 380.5h5M345 381.5h4M341 382.5h4M338 383.5h3M333 384.5h5M328 385.5h5M317 386.5h11M305 387.5h12M297 388.5h8M216 389.5h8M236 389.5h61M209 390.5h7M224 390.5h12M202 391.5h7M196 392.5h6M191 393.5h5M186 394.5h5M181 395.5h5M176 396.5h5M171 397.5h5M165 398.5h6M160 399.5h5M155 400.5h5M150 401.5h5M143 402.5h8M136 403.5h7M130 404.5h6M123 405.5h7M117 406.5h6M58 407.5h20M110 407.5h7M52 408.5h6M78 408.5h6M103 408.5h8M45 409.5h7M84 409.5h6M97 409.5h6M38 410.5h7M90 410.5h7M32 411.5h6M26 412.5h6M21 413.5h5M17 414.5h4M13 415.5h4M9 416.5h4M5 417.5h4" fill="none" stroke="#ff00ff" stroke-width="1" shape-rendering="crispEdges"/>
<path d="M1668 139.5h2M1667 140.5h1M1665 141.5h2M1664 142.5h1M1662 143.5h2M1661 144.5h1M1659 145.5h2M1658 146.5h1M1657 147.5h1M1656 148.5h1M1655 149.5h1M1654 150.5h1M1653 151.5h1M1460 152.5h7M1651 152.5h2M1457 153.5h3M1467 153.5h6M1650 153.5h1M1455 154.5h2M1473 154.5h3M1649 154.5h1M1453 155.5h2M1476 155.5h2M1648 155.5h1M1450 156.5h3M1478 156.5h2M1647 156.5h1M1448 157.5h2M1480 157.5h2M1646 157.5h1M1446 158.5h2M1482 158.5h1M1644 158.5h2M1443 159.5h3M1483 159.5h2M1643 159.5h1M1441 160.5h2M1485 160.5h2M1641 160.5h2M1439 161.5h2M1487 161.5h2M1640 161.5h1M1435 162.5h4M1489 162.5h1M1639 162.5h1M1431 163.5h4M1490 163.5h2M1637 163.5h2M1427 164.5h4M1492 164.5h7M1634 164.5h4M1422 165.5h5M1499 165.5h6M1631 165.5h3M1418 166.5h4M1505 166.5h4M1627 166.5h4M1413 167.5h5M1509 167.5h4M1623 167.5h4M1411 168.5h2M1513 168.5h5M1618 168.5h5M1408 169.5h3M1518 169.5h5M1614 169.5h4M1405 170.5h3M1523 170.5h8M1611 170.5h3M1403 171.5h2M1531 171.5h8M1607 171.5h4M1401 172.5h2M1539 172.5h7M1604 172.5h3M1399 173.5h2M1546 173.5h4M1602 173.5h2M1396 174.5h3M1550 174.5h2M1599 174.5h3M1394 175.5h2M1552 175.5h3M1596 175.5h3M1392 176.5h2M1555 176.5h2M1593 176.5h3M1391 177.5h1M1557 177.5h3M1590 177.5h3M1389 178.5h2M1560 178.5h5M1587 178.5h3M1387 179.5h2M1565 179.5h5M1583 179.5h4M1386 180.5h1M1570 180.5h6M1578 180.5h5M1384 181.5h2M1576 181.5h2M1382 182.5h2M1378 183.5h4M1375 184.5h3M1371 185.5h4M1368 186.5h3M1364 187.5h4M1360 188.5h4M1356 189.5h4M1352 190.5h4M1347 191.5h5M1343 192.5h4M1338 193.5h5M1320 194.5h18M1313 195.5h7M1308 196.5h5M1304 197.5h4M1301 198.5h3M1297 199.5h4M1293 200.5h4M1289 201.5h4M1278 202.5h11M1276 203.5h3M1274 204.5h2M1271 205.5h3M1213 206.5h23M1269 206.5h2M1206 207.5h7M1236 207.5h7M1267 207.5h2M1203 208.5h3M1243 208.5h5M1264 208.5h3M1200 209.5h3M1248 209.5h5M1262 209.5h2M1196 210.5h4M1253 210.5h9M1193 211.5h3M1191 212.5h2M1188 213.5h3M1186 214.5h2M1183 215.5h3M1181 216.5h2M1179 217.5h2M1177 218.5h2M1176 219.5h1M1174 220.5h2M1173 221.5h1M1171 222.5h2M1170 223.5h1M1168 224.5h2M1167 225.5h1M1165 226.5h2M1164 227.5h1M1163 228.5h1M1161 229.5h2M1160 230.5h1M1159 231.5h1M1157 232.5h2M1032 233.5h15M1156 233.5h1M1024 234.5h8M1047 234.5h1M1155 234.5h1M1016 235.5h8M1048 235.5h2M1153 235.5h2M1010 236.5h6M1050 236.5h1M1151 236.5h2M1006 237.5h4M1051 237.5h2M1150 237.5h1M1004 238.5h2M1053 238.5h1M1090 238.5h6M1148 238.5h2M1002 239.5h2M1054 239.5h2M1085 239.5h5M1096 239.5h3M1146 239.5h2M1000 240.5h2M1056 240.5h2M1081 240.5h4M1099 240.5h3M1145 240.5h1M998 241.5h2M1058 241.5h1M1076 241.5h5M1102 241.5h3M1143 241.5h2M996 242.5h2M1059 242.5h2M1069 242.5h7M1105 242.5h2M1139 242.5h4M995 243.5h1M1061 243.5h8M1107 243.5h3M1135 243.5h4M993 244.5h2M1110 244.5h2M1132 244.5h3M991 245.5h2M1112 245.5h11M1128 245.5h4M989 246.5h2M1123 246.5h5M987 247.5h2M985 248.5h2M983 249.5h2M980 250.5h3M978 251.5h2M976 252.5h2M974 253.5h2M973 254.5h1M971 255.5h2M969 256.5h2M967 257.5h2M965 258.5h2M963 259.5h2M961 260.5h2M960 261.5h1M958 262.5h2M957 263.5h1M956 264.5h1M955 265.5h1M954.5 266v2M953 268.5h1M952 269.5h1M951.5 270v2M950 272.5h1M949.5 273v2M479 275.5h25M948 275.5h1M472 276.5h7M504 276.5h2M947 276.5h1M469 277.5h3M506 277.5h1M946.5 277v2M465 278.5h4M507 278.5h2M462 279.5h3M509 279.5h2M945 279.5h1M459 280.5h3M511 280.5h2M944 280.5h1M457 281.5h2M513 281.5h2M943.5 281v2M455 282.5h2M515 282.5h2M453 283.5h2M517 283.5h2M942 283.5h1M451 284.5h2M519 284.5h2M941.5 284v2M449 285.5h2M521 285.5h3M447 286.5h2M524 286.5h3M940 286.5h1M445 287.5h2M527 287.5h3M939 287.5h1M444 288.5h1M530 288.5h3M938.5 288v2M443 289.5h1M533 289.5h9M442 290.5h1M542 290.5h2M937 290.5h1M441 291.5h1M544 291.5h2M559 291.5h13M936 291.5h1M440 292.5h1M546 292.5h2M556 292.5h3M572 292.5h7M935.5 292v2M438 293.5h2M548 293.5h2M552 293.5h4M579 293.5h5M437 294.5h1M550 294.5h2M584 294.5h6M934 294.5h1M436 295.5h1M589 295.5h2M933 295.5h1M434 296.5h2M591 296.5h2M932 296.5h1M433 297.5h1M593 297.5h2M931 297.5h1M432 298.5h1M595 298.5h2M930 298.5h1M430 299.5h2M597 299.5h1M929 299.5h1M429 300.5h1M598 300.5h2M928 300.5h1M427 301.5h2M600 301.5h2M927 301.5h1M426 302.5h1M602 302.5h2M926 302.5h1M424 303.5h2M604 303.5h2M666 303.5h4M925 303.5h1M423 304.5h1M606 304.5h2M662 304.5h4M670 304.5h6M924 304.5h1M422 305.5h1M608 305.5h2M659 305.5h3M676 305.5h3M923 305.5h1M420 306.5h2M610 306.5h2M646 306.5h13M679 306.5h2M922 306.5h1M419 307.5h1M612 307.5h2M635 307.5h11M681 307.5h2M921 307.5h1M417 308.5h2M614 308.5h3M630 308.5h5M683 308.5h2M920 308.5h1M416 309.5h1M617 309.5h5M626 309.5h4M685 309.5h2M919 309.5h1M414 310.5h2M622 310.5h4M687 310.5h2M918 310.5h1M413 311.5h1M689 311.5h1M917 311.5h1M411 312.5h3M690 312.5h2M916 312.5h1M409 313.5h2M692 313.5h2M914 313.5h2M407 314.5h2M694 314.5h1M914 314.5h1M405 315.5h2M695 315.5h2M913 315.5h1M403 316.5h2M697 316.5h2M912 316.5h1M401 317.5h2M699 317.5h1M911 317.5h1M399 318.5h2M700 318.5h2M910.5 318v2M398 319.5h1M702 319.5h1M396 320.5h2M703 320.5h2M909 320.5h1M395 321.5h1M705 321.5h1M908 321.5h1M393 322.5h2M706 322.5h1M907 322.5h1M391 323.5h2M707 323.5h2M906 323.5h1M388 324.5h3M709 324.5h2M905.5 324v2M384 325.5h4M711 325.5h2M379 326.5h5M713 326.5h3M904 326.5h1M376 327.5h4M716 327.5h2M903 327.5h1M374 328.5h2M718 328.5h2M902 328.5h1M371 329.5h3M720 329.5h2M901.5 329v2M368 330.5h3M722 330.5h1M366 331.5h2M723 331.5h2M900 331.5h1M364 332.5h2M725 332.5h1M899 332.5h1M361 333.5h3M726 333.5h1M898 333.5h1M359 334.5h2M727 334.5h2M897.5 334v2M357 335.5h2M729 335.5h2M355 336.5h2M730 336.5h1M896 336.5h1M353 337.5h2M731 337.5h1M895 337.5h1M351 338.5h2M732 338.5h1M894.5 338v2M349 339.5h2M733 339.5h2M347 340.5h2M735 340.5h1M893 340.5h1M345 341.5h2M736 341.5h1M892.5 341v2M343 342.5h2M737 342.5h1M342 343.5h1M738 343.5h1M891 343.5h1M340 344.5h2M739 344.5h1M890.5 344v2M339 345.5h1M740 345.5h1M337 346.5h2M741 346.5h1M889 346.5h1M272 347.5h42M335 347.5h2M742 347.5h2M888.5 347v2M265 348.5h7M314 348.5h21M743 348.5h2M262 349.5h3M745 349.5h1M887 349.5h1M260 350.5h2M746 350.5h2M886.5 350v2M258 351.5h2M748 351.5h2M257 352.5h1M750 352.5h1M885.5 352v2M255 353.5h2M751 353.5h2M254 354.5h1M753 354.5h2M884 354.5h1M253 355.5h1M755 355.5h1M883.5 355v2M252 356.5h1M756 356.5h2M251 357.5h1M758 357.5h1M882 357.5h1M250 358.5h1M759 358.5h2M881.5 358v2M249 359.5h1M761 359.5h1M248 360.5h1M762 360.5h2M880.5 360v2M247 361.5h1M764 361.5h2M246 362.5h1M766 362.5h2M879 362.5h1M245 363.5h1M768 363.5h2M878.5 363v2M244 364.5h1M770 364.5h2M243 365.5h1M772 365.5h2M877 365.5h1M241 366.5h2M774 366.5h2M876 366.5h1M240 367.5h1M776 367.5h1M875 367.5h1M239 368.5h1M777 368.5h1M874 368.5h1M238 369.5h1M778 369.5h1M872 369.5h2M236 370.5h2M779 370.5h1M871 370.5h1M235 371.5h2M780 371.5h2M870 371.5h1M233 372.5h2M782 372.5h1M869 372.5h1M231 373.5h2M783 373.5h1M868 373.5h1M229 374.5h2M784 374.5h2M867 374.5h1M227 375.5h2M786 375.5h2M865 375.5h2M225 376.5h2M787 376.5h4M864 376.5h1M223 377.5h2M791 377.5h4M863 377.5h1M218 378.5h6M795 378.5h3M862 378.5h2M214 379.5h4M798 379.5h3M861 379.5h1M212 380.5h2M801 380.5h3M860 380.5h1M210 381.5h2M804 381.5h3M858 381.5h2M208 382.5h2M807 382.5h2M857 382.5h1M206 383.5h2M809 383.5h3M856 383.5h1M204 384.5h2M812 384.5h3M855 384.5h1M203 385.5h1M815 385.5h2M854 385.5h1M201 386.5h2M817 386.5h3M852 386.5h2M199 387.5h2M820 387.5h3M851 387.5h1M197 388.5h3M823 388.5h2M850 388.5h1M195 389.5h2M825 389.5h3M848 389.5h2M193 390.5h2M828 390.5h2M846 390.5h2M191 391.5h2M830 391.5h2M844 391.5h2M189 392.5h2M832 392.5h3M841 392.5h3M187 393.5h2M835 393.5h2M839 393.5h2M185 394.5h2M837 394.5h2M183 395.5h2M180 396.5h3M178 397.5h2M175 398.5h3M173 399.5h3M171 400.5h2M168 401.5h3M5 402.5h10M166 402.5h2M15 403.5h3M163 403.5h3M18 404.5h2M161 404.5h2M20 405.5h3M160 405.5h1M22 406.5h8M159 406.5h1M30 407.5h7M158 407.5h1M37 408.5h7M157 408.5h1M44 409.5h7M156 409.5h1M51 410.5h4M155 410.5h1M55 411.5h2M154 411.5h1M57 412.5h2M153 412.5h1M59 413.5h2M152.5 413v2M61 414.5h2M62 415.5h1M151 415.5h1M63 416.5h1M150 416.5h1M64 417.5h1M149 417.5h1M65 418.5h1M148 418.5h1M66 419.5h1M147 419.5h1M67 420.5h1M145 420.5h2M68 421.5h2M144 421.5h1M70 422.5h1M143 422.5h1M71 423.5h1M142 423.5h1M72 424.5h1M141 424.5h1M72 425.5h2M140 425.5h1M74 426.5h1M139 426.5h1M75 427.5h1M138 427.5h1M76 428.5h1M137 428.5h1M77 429.5h1M136 429.5h1M78 430.5h1M135 430.5h1M79 431.5h1M133 431.5h2M80 432.5h1M131 432.5h2M81 433.5h2M129 433.5h2M83 434.5h1M127 434.5h2M84 435.5h2M125 435.5h2M86 436.5h2M123 436.5h2M88 437.5h2M121 437.5h2M90 438.5h1M120 438.5h1M91 439.5h2M117 439.5h3M93 440.5h4M115 440.5h2M97 441.5h6M112 441.5h3M103 442.5h9M110 443.5h1" fill="none" stroke="#ffa500" stroke-width="1" shape-rendering="crispEdges"/>
<g shape-rendering="crispEdges">
<rect x="5" y="80" width="6" height="6" fill="#2dc32d"/>
<rect x="7" y="82" width="2" height="2" fill="#ffffff"/>
<rect x="1685" y="80" width="6" height="6" fill="#2dc32d"/>
<rect x="1687" y="82" width="2" height="2" fill="#ffffff"/>
</g>
<g shape-rendering="crispEdges">
<rect x="1692" y="34" width="2" height="1" fill="#000"/>
<rect x="1692" y="67" width="2" height="1" fill="#000"/>
<rect x="1692" y="133" width="2" height="1" fill="#000"/>
<rect x="1692" y="166" width="2" height="1" fill="#000"/>
<rect x="1692" y="199" width="2" height="1" fill="#000"/>
<rect x="1692" y="232" width="2" height="1" fill="#000"/>
<rect x="1692" y="265" width="2" height="1" fill="#000"/>
<rect x="1692" y="298" width="2" height="1" fill="#000"/>
<rect x="1692" y="332" width="2" height="1" fill="#000"/>
<rect x="1692" y="364" width="2" height="1" fill="#000"/>
<rect x="1692" y="398" width="2" height="1" fill="#000"/>
<rect x="1692" y="430" width="2" height="1" fill="#000"/>
<rect x="1692" y="464" width="2" height="1" fill="#000"/>
<rect x="1692" y="496" width="2" height="1" fill="#000"/>
<rect x="1692" y="530" width="2" height="1" fill="#000"/>
<rect x="1692" y="562" width="2" height="1" fill="#000"/>
</g>
<text x="1697" y="38" fill="#000" stroke="#000" stroke-width="0.14" font-size="9.8px" text-anchor="start" textLength="28" lengthAdjust="spacingAndGlyphs">43.990</text>
<text x="1697" y="71" fill="#000" stroke="#000" stroke-width="0.14" font-size="9.8px" text-anchor="start" textLength="28" lengthAdjust="spacingAndGlyphs">43.660</text>
<text x="1697" y="137" fill="#000" stroke="#000" stroke-width="0.14" font-size="9.8px" text-anchor="start" textLength="28" lengthAdjust="spacingAndGlyphs">42.990</text>
<text x="1697" y="170" fill="#000" stroke="#000" stroke-width="0.14" font-size="9.8px" text-anchor="start" textLength="28" lengthAdjust="spacingAndGlyphs">42.650</text>
<text x="1697" y="203" fill="#000" stroke="#000" stroke-width="0.14" font-size="9.8px" text-anchor="start" textLength="28" lengthAdjust="spacingAndGlyphs">42.320</text>
<text x="1697" y="236" fill="#000" stroke="#000" stroke-width="0.14" font-size="9.8px" text-anchor="start" textLength="28" lengthAdjust="spacingAndGlyphs">41.980</text>
<text x="1697" y="269" fill="#000" stroke="#000" stroke-width="0.14" font-size="9.8px" text-anchor="start" textLength="28" lengthAdjust="spacingAndGlyphs">41.650</text>
<text x="1697" y="302" fill="#000" stroke="#000" stroke-width="0.14" font-size="9.8px" text-anchor="start" textLength="28" lengthAdjust="spacingAndGlyphs">41.310</text>
<text x="1697" y="336" fill="#000" stroke="#000" stroke-width="0.14" font-size="9.8px" text-anchor="start" textLength="28" lengthAdjust="spacingAndGlyphs">40.970</text>
<text x="1697" y="368" fill="#000" stroke="#000" stroke-width="0.14" font-size="9.8px" text-anchor="start" textLength="28" lengthAdjust="spacingAndGlyphs">40.640</text>
<text x="1697" y="402" fill="#000" stroke="#000" stroke-width="0.14" font-size="9.8px" text-anchor="start" textLength="28" lengthAdjust="spacingAndGlyphs">40.300</text>
<text x="1697" y="434" fill="#000" stroke="#000" stroke-width="0.14" font-size="9.8px" text-anchor="start" textLength="28" lengthAdjust="spacingAndGlyphs">39.970</text>
<text x="1697" y="468" fill="#000" stroke="#000" stroke-width="0.14" font-size="9.8px" text-anchor="start" textLength="28" lengthAdjust="spacingAndGlyphs">39.630</text>
<text x="1697" y="500" fill="#000" stroke="#000" stroke-width="0.14" font-size="9.8px" text-anchor="start" textLength="28" lengthAdjust="spacingAndGlyphs">39.300</text>
<text x="1697" y="534" fill="#000" stroke="#000" stroke-width="0.14" font-size="9.8px" text-anchor="start" textLength="28" lengthAdjust="spacingAndGlyphs">38.960</text>
<text x="1697" y="566" fill="#000" stroke="#000" stroke-width="0.14" font-size="9.8px" text-anchor="start" textLength="28" lengthAdjust="spacingAndGlyphs">38.630</text>
<g shape-rendering="crispEdges">
<rect x="1693" y="77" width="33" height="11" fill="#2dc32d"/>
<rect x="1693" y="94" width="33" height="11" fill="#000000"/>
<rect x="1693" y="273" width="33" height="11" fill="#4169e1"/>
<rect x="1693" y="470" width="33" height="11" fill="#4169e1"/>
</g>
<text x="1697" y="86" fill="#fff" stroke="#fff" stroke-width="0.14" font-size="9.8px" text-anchor="start" textLength="28" lengthAdjust="spacingAndGlyphs">43.500</text>
<text x="1697" y="103" fill="#fff" stroke="#fff" stroke-width="0.14" font-size="9.8px" text-anchor="start" textLength="28" lengthAdjust="spacingAndGlyphs">43.330</text>
<text x="1697" y="282" fill="#fff" stroke="#fff" stroke-width="0.14" font-size="9.8px" text-anchor="start" textLength="28" lengthAdjust="spacingAndGlyphs">41.500</text>
<text x="1697" y="479" fill="#fff" stroke="#fff" stroke-width="0.14" font-size="9.8px" text-anchor="start" textLength="28" lengthAdjust="spacingAndGlyphs">39.500</text>
<path d="M9 38h7l-3.5 4z" fill="#000"/>
<text x="21.3" y="43" fill="#000" stroke="#000" stroke-width="0.14" font-size="9.8px" text-anchor="start" textLength="42.5" lengthAdjust="spacingAndGlyphs">USOil-,H4</text>
<text x="70.1" y="43" fill="#000" stroke="#000" stroke-width="0.14" font-size="9.8px" text-anchor="start" textLength="28" lengthAdjust="spacingAndGlyphs">43.350</text>
<text x="100.9" y="43" fill="#000" stroke="#000" stroke-width="0.14" font-size="9.8px" text-anchor="start" textLength="28" lengthAdjust="spacingAndGlyphs">43.390</text>
<text x="131.9" y="43" fill="#000" stroke="#000" stroke-width="0.14" font-size="9.8px" text-anchor="start" textLength="28" lengthAdjust="spacingAndGlyphs">43.320</text>
<text x="162.7" y="43" fill="#000" stroke="#000" stroke-width="0.14" font-size="9.8px" text-anchor="start" textLength="28" lengthAdjust="spacingAndGlyphs">43.330</text>
<text x="1303.0" y="401.2" fill="#ed1c24" font-size="34.6px" letter-spacing="-1.3" style="font-family:'Liberation Sans','Noto Sans CJK SC',sans-serif">多空转折点<tspan font-size="36.4px" letter-spacing="0" textLength="66" lengthAdjust="spacingAndGlyphs" dx="0.6" dy="-0.8">43.5</tspan></text>
<g shape-rendering="crispEdges">
<rect x="6" y="662" width="1" height="24" fill="#c0c0c0"/>
<rect x="14" y="662" width="1" height="13" fill="#c0c0c0"/>
<rect x="22" y="662" width="1" height="12" fill="#c0c0c0"/>
<rect x="30" y="662" width="1" height="9" fill="#c0c0c0"/>
<rect x="38" y="662" width="1" height="10" fill="#c0c0c0"/>
<rect x="46" y="662" width="1" height="9" fill="#c0c0c0"/>
<rect x="54" y="662" width="1" height="1" fill="#c0c0c0"/>
<rect x="62" y="662" width="1" height="8" fill="#c0c0c0"/>
<rect x="70" y="662" width="1" height="15" fill="#c0c0c0"/>
<rect x="78" y="662" width="1" height="25" fill="#c0c0c0"/>
<rect x="86" y="662" width="1" height="30" fill="#c0c0c0"/>
<rect x="94" y="662" width="1" height="29" fill="#c0c0c0"/>
<rect x="102" y="662" width="1" height="18" fill="#c0c0c0"/>
<rect x="110" y="662" width="1" height="11" fill="#c0c0c0"/>
<rect x="118" y="662" width="1" height="1" fill="#c0c0c0"/>
<rect x="126" y="659" width="1" height="4" fill="#c0c0c0"/>
<rect x="134" y="651" width="1" height="12" fill="#c0c0c0"/>
<rect x="142" y="642" width="1" height="21" fill="#c0c0c0"/>
<rect x="150" y="638" width="1" height="25" fill="#c0c0c0"/>
<rect x="158" y="629" width="1" height="34" fill="#c0c0c0"/>
<rect x="166" y="622" width="1" height="41" fill="#c0c0c0"/>
<rect x="174" y="618" width="1" height="45" fill="#c0c0c0"/>
<rect x="182" y="615" width="1" height="48" fill="#c0c0c0"/>
<rect x="190" y="614" width="1" height="49" fill="#c0c0c0"/>
<rect x="198" y="612" width="1" height="51" fill="#c0c0c0"/>
<rect x="206" y="615" width="1" height="48" fill="#c0c0c0"/>
<rect x="214" y="617" width="1" height="46" fill="#c0c0c0"/>
<rect x="222" y="620" width="1" height="43" fill="#c0c0c0"/>
<rect x="230" y="627" width="1" height="36" fill="#c0c0c0"/>
<rect x="238" y="633" width="1" height="30" fill="#c0c0c0"/>
<rect x="246" y="634" width="1" height="29" fill="#c0c0c0"/>
<rect x="254" y="637" width="1" height="26" fill="#c0c0c0"/>
<rect x="262" y="639" width="1" height="24" fill="#c0c0c0"/>
<rect x="270" y="641" width="1" height="22" fill="#c0c0c0"/>
<rect x="278" y="647" width="1" height="16" fill="#c0c0c0"/>
<rect x="286" y="653" width="1" height="10" fill="#c0c0c0"/>
<rect x="294" y="657" width="1" height="6" fill="#c0c0c0"/>
<rect x="302" y="656" width="1" height="7" fill="#c0c0c0"/>
<rect x="310" y="655" width="1" height="8" fill="#c0c0c0"/>
<rect x="318" y="653" width="1" height="10" fill="#c0c0c0"/>
<rect x="326" y="650" width="1" height="13" fill="#c0c0c0"/>
<rect x="334" y="645" width="1" height="18" fill="#c0c0c0"/>
<rect x="342" y="629" width="1" height="34" fill="#c0c0c0"/>
<rect x="350" y="617" width="1" height="46" fill="#c0c0c0"/>
<rect x="358" y="611" width="1" height="52" fill="#c0c0c0"/>
<rect x="366" y="610" width="1" height="53" fill="#c0c0c0"/>
<rect x="374" y="609" width="1" height="54" fill="#c0c0c0"/>
<rect x="382" y="609" width="1" height="54" fill="#c0c0c0"/>
<rect x="390" y="616" width="1" height="47" fill="#c0c0c0"/>
<rect x="398" y="617" width="1" height="46" fill="#c0c0c0"/>
<rect x="406" y="615" width="1" height="48" fill="#c0c0c0"/>
<rect x="414" y="616" width="1" height="47" fill="#c0c0c0"/>
<rect x="422" y="613" width="1" height="50" fill="#c0c0c0"/>
<rect x="430" y="608" width="1" height="55" fill="#c0c0c0"/>
<rect x="438" y="610" width="1" height="53" fill="#c0c0c0"/>
<rect x="446" y="609" width="1" height="54" fill="#c0c0c0"/>
<rect x="454" y="619" width="1" height="44" fill="#c0c0c0"/>
<rect x="462" y="630" width="1" height="33" fill="#c0c0c0"/>
<rect x="470" y="639" width="1" height="24" fill="#c0c0c0"/>
<rect x="478" y="647" width="1" height="16" fill="#c0c0c0"/>
<rect x="486" y="652" width="1" height="11" fill="#c0c0c0"/>
<rect x="494" y="662" width="1" height="1" fill="#c0c0c0"/>
<rect x="518" y="662" width="1" height="3" fill="#c0c0c0"/>
<rect x="526" y="662" width="1" height="3" fill="#c0c0c0"/>
<rect x="534" y="662" width="1" height="5" fill="#c0c0c0"/>
<rect x="542" y="662" width="1" height="1" fill="#c0c0c0"/>
<rect x="550" y="662" width="1" height="8" fill="#c0c0c0"/>
<rect x="558" y="662" width="1" height="2" fill="#c0c0c0"/>
<rect x="566" y="658" width="1" height="5" fill="#c0c0c0"/>
<rect x="574" y="656" width="1" height="7" fill="#c0c0c0"/>
<rect x="582" y="654" width="1" height="9" fill="#c0c0c0"/>
<rect x="590" y="654" width="1" height="9" fill="#c0c0c0"/>
<rect x="598" y="658" width="1" height="5" fill="#c0c0c0"/>
<rect x="606" y="662" width="1" height="1" fill="#c0c0c0"/>
<rect x="614" y="662" width="1" height="3" fill="#c0c0c0"/>
<rect x="622" y="662" width="1" height="5" fill="#c0c0c0"/>
<rect x="630" y="662" width="1" height="5" fill="#c0c0c0"/>
<rect x="638" y="662" width="1" height="1" fill="#c0c0c0"/>
<rect x="646" y="662" width="1" height="1" fill="#c0c0c0"/>
<rect x="654" y="662" width="1" height="1" fill="#c0c0c0"/>
<rect x="662" y="662" width="1" height="1" fill="#c0c0c0"/>
<rect x="670" y="662" width="1" height="1" fill="#c0c0c0"/>
<rect x="678" y="662" width="1" height="6" fill="#c0c0c0"/>
<rect x="686" y="662" width="1" height="15" fill="#c0c0c0"/>
<rect x="694" y="662" width="1" height="30" fill="#c0c0c0"/>
<rect x="702" y="662" width="1" height="39" fill="#c0c0c0"/>
<rect x="710" y="662" width="1" height="42" fill="#c0c0c0"/>
<rect x="718" y="662" width="1" height="49" fill="#c0c0c0"/>
<rect x="726" y="662" width="1" height="49" fill="#c0c0c0"/>
<rect x="734" y="662" width="1" height="51" fill="#c0c0c0"/>
<rect x="742" y="662" width="1" height="56" fill="#c0c0c0"/>
<rect x="750" y="662" width="1" height="53" fill="#c0c0c0"/>
<rect x="758" y="662" width="1" height="47" fill="#c0c0c0"/>
<rect x="766" y="662" width="1" height="49" fill="#c0c0c0"/>
<rect x="774" y="662" width="1" height="51" fill="#c0c0c0"/>
<rect x="782" y="662" width="1" height="54" fill="#c0c0c0"/>
<rect x="790" y="662" width="1" height="53" fill="#c0c0c0"/>
<rect x="798" y="662" width="1" height="38" fill="#c0c0c0"/>
<rect x="806" y="662" width="1" height="29" fill="#c0c0c0"/>
<rect x="814" y="662" width="1" height="23" fill="#c0c0c0"/>
<rect x="822" y="662" width="1" height="18" fill="#c0c0c0"/>
<rect x="830" y="662" width="1" height="13" fill="#c0c0c0"/>
<rect x="838" y="662" width="1" height="15" fill="#c0c0c0"/>
<rect x="846" y="662" width="1" height="1" fill="#c0c0c0"/>
<rect x="854" y="649" width="1" height="14" fill="#c0c0c0"/>
<rect x="862" y="640" width="1" height="23" fill="#c0c0c0"/>
<rect x="870" y="631" width="1" height="32" fill="#c0c0c0"/>
<rect x="878" y="620" width="1" height="43" fill="#c0c0c0"/>
<rect x="886" y="591" width="1" height="72" fill="#c0c0c0"/>
<rect x="894" y="577" width="1" height="86" fill="#c0c0c0"/>
<rect x="902" y="578" width="1" height="85" fill="#c0c0c0"/>
<rect x="910" y="578" width="1" height="85" fill="#c0c0c0"/>
<rect x="918" y="580" width="1" height="83" fill="#c0c0c0"/>
<rect x="926" y="585" width="1" height="78" fill="#c0c0c0"/>
<rect x="934" y="590" width="1" height="73" fill="#c0c0c0"/>
<rect x="942" y="589" width="1" height="74" fill="#c0c0c0"/>
<rect x="950" y="594" width="1" height="69" fill="#c0c0c0"/>
<rect x="958" y="598" width="1" height="65" fill="#c0c0c0"/>
<rect x="966" y="606" width="1" height="57" fill="#c0c0c0"/>
<rect x="974" y="610" width="1" height="53" fill="#c0c0c0"/>
<rect x="982" y="622" width="1" height="41" fill="#c0c0c0"/>
<rect x="990" y="633" width="1" height="30" fill="#c0c0c0"/>
<rect x="998" y="639" width="1" height="24" fill="#c0c0c0"/>
<rect x="1006" y="644" width="1" height="19" fill="#c0c0c0"/>
<rect x="1014" y="647" width="1" height="16" fill="#c0c0c0"/>
<rect x="1022" y="647" width="1" height="16" fill="#c0c0c0"/>
<rect x="1030" y="646" width="1" height="17" fill="#c0c0c0"/>
<rect x="1038" y="647" width="1" height="16" fill="#c0c0c0"/>
<rect x="1046" y="643" width="1" height="20" fill="#c0c0c0"/>
<rect x="1054" y="641" width="1" height="22" fill="#c0c0c0"/>
<rect x="1062" y="640" width="1" height="23" fill="#c0c0c0"/>
<rect x="1070" y="636" width="1" height="27" fill="#c0c0c0"/>
<rect x="1078" y="632" width="1" height="31" fill="#c0c0c0"/>
<rect x="1086" y="625" width="1" height="38" fill="#c0c0c0"/>
<rect x="1094" y="625" width="1" height="38" fill="#c0c0c0"/>
<rect x="1102" y="637" width="1" height="26" fill="#c0c0c0"/>
<rect x="1110" y="645" width="1" height="18" fill="#c0c0c0"/>
<rect x="1118" y="649" width="1" height="14" fill="#c0c0c0"/>
<rect x="1126" y="648" width="1" height="15" fill="#c0c0c0"/>
<rect x="1134" y="645" width="1" height="18" fill="#c0c0c0"/>
<rect x="1142" y="642" width="1" height="21" fill="#c0c0c0"/>
<rect x="1150" y="636" width="1" height="27" fill="#c0c0c0"/>
<rect x="1158" y="632" width="1" height="31" fill="#c0c0c0"/>
<rect x="1166" y="628" width="1" height="35" fill="#c0c0c0"/>
<rect x="1174" y="626" width="1" height="37" fill="#c0c0c0"/>
<rect x="1182" y="624" width="1" height="39" fill="#c0c0c0"/>
<rect x="1190" y="627" width="1" height="36" fill="#c0c0c0"/>
<rect x="1198" y="630" width="1" height="33" fill="#c0c0c0"/>
<rect x="1206" y="630" width="1" height="33" fill="#c0c0c0"/>
<rect x="1214" y="634" width="1" height="29" fill="#c0c0c0"/>
<rect x="1222" y="641" width="1" height="22" fill="#c0c0c0"/>
<rect x="1230" y="644" width="1" height="19" fill="#c0c0c0"/>
<rect x="1238" y="648" width="1" height="15" fill="#c0c0c0"/>
<rect x="1246" y="650" width="1" height="13" fill="#c0c0c0"/>
<rect x="1254" y="652" width="1" height="11" fill="#c0c0c0"/>
<rect x="1262" y="652" width="1" height="11" fill="#c0c0c0"/>
<rect x="1270" y="651" width="1" height="12" fill="#c0c0c0"/>
<rect x="1278" y="653" width="1" height="10" fill="#c0c0c0"/>
<rect x="1286" y="658" width="1" height="5" fill="#c0c0c0"/>
<rect x="1294" y="657" width="1" height="6" fill="#c0c0c0"/>
<rect x="1302" y="649" width="1" height="14" fill="#c0c0c0"/>
<rect x="1310" y="644" width="1" height="19" fill="#c0c0c0"/>
<rect x="1318" y="641" width="1" height="22" fill="#c0c0c0"/>
<rect x="1326" y="636" width="1" height="27" fill="#c0c0c0"/>
<rect x="1334" y="636" width="1" height="27" fill="#c0c0c0"/>
<rect x="1342" y="636" width="1" height="27" fill="#c0c0c0"/>
<rect x="1350" y="634" width="1" height="29" fill="#c0c0c0"/>
<rect x="1358" y="631" width="1" height="32" fill="#c0c0c0"/>
<rect x="1366" y="630" width="1" height="33" fill="#c0c0c0"/>
<rect x="1374" y="631" width="1" height="32" fill="#c0c0c0"/>
<rect x="1382" y="632" width="1" height="31" fill="#c0c0c0"/>
<rect x="1390" y="628" width="1" height="35" fill="#c0c0c0"/>
<rect x="1398" y="628" width="1" height="35" fill="#c0c0c0"/>
<rect x="1406" y="630" width="1" height="33" fill="#c0c0c0"/>
<rect x="1414" y="634" width="1" height="29" fill="#c0c0c0"/>
<rect x="1422" y="636" width="1" height="27" fill="#c0c0c0"/>
<rect x="1430" y="640" width="1" height="23" fill="#c0c0c0"/>
<rect x="1438" y="642" width="1" height="21" fill="#c0c0c0"/>
<rect x="1446" y="643" width="1" height="20" fill="#c0c0c0"/>
<rect x="1454" y="643" width="1" height="20" fill="#c0c0c0"/>
<rect x="1462" y="643" width="1" height="20" fill="#c0c0c0"/>
<rect x="1470" y="646" width="1" height="17" fill="#c0c0c0"/>
<rect x="1478" y="656" width="1" height="7" fill="#c0c0c0"/>
<rect x="1486" y="662" width="1" height="10" fill="#c0c0c0"/>
<rect x="1494" y="662" width="1" height="13" fill="#c0c0c0"/>
<rect x="1502" y="662" width="1" height="15" fill="#c0c0c0"/>
<rect x="1510" y="662" width="1" height="14" fill="#c0c0c0"/>
<rect x="1518" y="662" width="1" height="15" fill="#c0c0c0"/>
<rect x="1526" y="662" width="1" height="11" fill="#c0c0c0"/>
<rect x="1534" y="662" width="1" height="6" fill="#c0c0c0"/>
<rect x="1542" y="662" width="1" height="3" fill="#c0c0c0"/>
<rect x="1550" y="662" width="1" height="5" fill="#c0c0c0"/>
<rect x="1558" y="662" width="1" height="5" fill="#c0c0c0"/>
<rect x="1566" y="662" width="1" height="3" fill="#c0c0c0"/>
<rect x="1574" y="662" width="1" height="3" fill="#c0c0c0"/>
<rect x="1582" y="662" width="1" height="1" fill="#c0c0c0"/>
<rect x="1590" y="652" width="1" height="11" fill="#c0c0c0"/>
<rect x="1598" y="643" width="1" height="20" fill="#c0c0c0"/>
<rect x="1606" y="636" width="1" height="27" fill="#c0c0c0"/>
<rect x="1614" y="631" width="1" height="32" fill="#c0c0c0"/>
<rect x="1622" y="627" width="1" height="36" fill="#c0c0c0"/>
<rect x="1630" y="628" width="1" height="35" fill="#c0c0c0"/>
<rect x="1638" y="625" width="1" height="38" fill="#c0c0c0"/>
<rect x="1646" y="624" width="1" height="39" fill="#c0c0c0"/>
<rect x="1654" y="623" width="1" height="40" fill="#c0c0c0"/>
<rect x="1662" y="622" width="1" height="41" fill="#c0c0c0"/>
<rect x="1670" y="623" width="1" height="40" fill="#c0c0c0"/>
<rect x="1692" y="569" width="1" height="1" fill="#000"/>
<rect x="1692" y="662" width="1" height="1" fill="#000"/>
<rect x="1692" y="725" width="1" height="1" fill="#000"/>
</g>
<path d="M950 584.5h3M956 584.5h2M944 585.5h3M958 585.5h1M962 586.5h3M939 588.5h2M968 588.5h1M938 589.5h1M969 589.5h2M934 591.5h1M974 591.5h2M933 592.5h1M976 592.5h1M932 593.5h1M980 594.5h1M981 595.5h1M928 596.5h1M982 596.5h1M927 597.5h1M926 598.5h1M986 598.5h1M987 599.5h1M988 600.5h1M922 601.5h2M921 602.5h1M992 603.5h1M993 604.5h2M917 606.5h1M916 607.5h1M915 608.5h1M998 608.5h2M1000 609.5h1M415 612.5h3M421 612.5h3M427 612.5h3M433 612.5h3M439 612.5h3M445 612.5h3M451 612.5h2M911.5 612v2M1004 612.5h1M409 613.5h3M453 613.5h1M457 613.5h3M1005 613.5h1M405 614.5h1M463 614.5h3M910 614.5h1M1006 614.5h1M403 615.5h2M399 616.5h1M469 616.5h2M1010 616.5h1M221 617.5h3M227 617.5h3M233 617.5h2M397 617.5h2M471 617.5h1M1011 617.5h1M216 618.5h2M235 618.5h1M239 618.5h2M475 618.5h1M906 618.5h1M1012 618.5h1M215 619.5h1M241 619.5h1M245 619.5h1M392 619.5h2M476 619.5h2M905 619.5h1M209 620.5h3M246 620.5h2M391 620.5h1M904 620.5h1M251 621.5h2M481 621.5h1M1016 621.5h1M204 622.5h2M253 622.5h1M387 622.5h1M482 622.5h2M1017 622.5h2M203 623.5h1M257 623.5h3M386 623.5h1M385 624.5h1M487 624.5h1M901 624.5h1M199 625.5h1M263 625.5h3M488 625.5h1M900.5 625v2M1022 625.5h1M197 626.5h2M269 626.5h1M381 626.5h1M489 626.5h1M1023 626.5h1M1669 626.5h2M270 627.5h2M379 627.5h2M1024 627.5h1M1664 627.5h2M1663 628.5h1M193 629.5h1M275 629.5h1M375 629.5h1M493 629.5h1M1028 629.5h1M1209 629.5h1M1213 629.5h3M1219 629.5h3M1659 629.5h1M191 630.5h2M276 630.5h2M374 630.5h1M494 630.5h2M896.5 630v2M1029 630.5h1M1203 630.5h1M1207 630.5h2M1225 630.5h3M1403 630.5h1M1407 630.5h3M1413 630.5h3M1419 630.5h3M1425 630.5h3M1657 630.5h2M373 631.5h1M1030 631.5h1M1201 631.5h2M1230 631.5h3M1395 631.5h3M1401 631.5h2M1431 631.5h3M281 632.5h1M895 632.5h1M1195 632.5h3M1236 632.5h3M1385 632.5h1M1389 632.5h3M1437 632.5h3M1653 632.5h1M187 633.5h1M282 633.5h2M369 633.5h1M499 633.5h1M1034 633.5h1M1190 633.5h2M1378 633.5h2M1383 633.5h2M1443 633.5h3M1651 633.5h2M185 634.5h2M367 634.5h2M500 634.5h1M1035 634.5h2M1189 634.5h1M1241 634.5h2M1373 634.5h1M1377 634.5h1M1449 634.5h2M287 635.5h1M501 635.5h1M1099 635.5h3M1105 635.5h3M1111 635.5h3M1117 635.5h3M1183 635.5h3M1243 635.5h1M1371 635.5h2M1451 635.5h1M1455 635.5h2M1647 635.5h1M288 636.5h2M892.5 636v2M1094 636.5h2M1123 636.5h3M1129 636.5h3M1178 636.5h2M1366 636.5h2M1457 636.5h1M1461 636.5h2M1645 636.5h2M181 637.5h1M363 637.5h1M1040 637.5h2M1093 637.5h1M1135 637.5h3M1173 637.5h1M1177 637.5h1M1247 637.5h2M1365 637.5h1M1463 637.5h1M180 638.5h1M292 638.5h1M361 638.5h2M505 638.5h2M891 638.5h1M1042 638.5h1M1087 638.5h3M1141 638.5h3M1147 638.5h3M1153 638.5h2M1171 638.5h2M1248 638.5h1M1252 638.5h1M1360 638.5h2M1467 638.5h3M1641 638.5h1M179 639.5h1M293 639.5h2M507 639.5h1M1046 639.5h1M1083 639.5h1M1155 639.5h1M1159 639.5h3M1165 639.5h3M1253 639.5h2M1359 639.5h1M1473 639.5h2M1640 639.5h1M358 640.5h1M1047 640.5h2M1081 640.5h2M1258 640.5h2M1354 640.5h2M1475 640.5h1M1639 640.5h1M298 641.5h2M356 641.5h2M1052 641.5h3M1076 641.5h2M1260 641.5h1M1353 641.5h1M175 642.5h1M300 642.5h1M511 642.5h1M888.5 642v2M1058 642.5h3M1064 642.5h2M1069 642.5h3M1075 642.5h1M1264 642.5h3M1348 642.5h2M1479 642.5h2M1635 642.5h1M174 643.5h1M304 643.5h3M512 643.5h2M1064 643.5h1M1270 643.5h1M1347 643.5h1M1481 643.5h1M1633 643.5h2M173 644.5h1M351 644.5h2M887 644.5h1M1271 644.5h2M1341 644.5h3M310 645.5h3M351 645.5h1M1276 645.5h2M1485 645.5h2M316 646.5h2M346 646.5h2M517 646.5h1M1278 646.5h1M1335 646.5h3M1487 646.5h1M1628 646.5h2M169 647.5h1M318 647.5h1M345 647.5h1M518 647.5h1M885.5 647v2M1282 647.5h2M1330 647.5h2M1627 647.5h1M168 648.5h2M322 648.5h3M339 648.5h3M519 648.5h1M1284 648.5h1M1324 648.5h2M1329 648.5h1M1491 648.5h2M328 649.5h3M333 649.5h3M884 649.5h1M1288 649.5h2M1318 649.5h2M1323 649.5h1M1493 649.5h1M1623 649.5h1M523 650.5h1M1289 650.5h1M1293 650.5h3M1313 650.5h1M1317 650.5h1M1621 650.5h2M524 651.5h1M1299 651.5h3M1305 651.5h3M1311 651.5h2M1497 651.5h1M164 652.5h1M525 652.5h1M1498 652.5h2M163 653.5h1M881 653.5h1M1616 653.5h2M162 654.5h1M529 654.5h2M880 654.5h1M1503 654.5h1M1615 654.5h1M531 655.5h1M879 655.5h1M1504 655.5h2M1610 656.5h2M535 657.5h3M1509 657.5h1M1609 657.5h1M158 658.5h1M1510 658.5h2M1606 658.5h1M157 659.5h1M540 659.5h3M606 659.5h3M876 659.5h1M1604 659.5h2M156 660.5h1M594 660.5h3M600 660.5h3M612 660.5h3M618 660.5h3M624 660.5h3M630 660.5h3M875 660.5h1M546 661.5h2M588 661.5h3M636 661.5h3M642 661.5h1M874 661.5h1M1515 661.5h2M1600 661.5h1M548 662.5h1M552 662.5h1M578 662.5h1M582 662.5h3M643 662.5h2M648 662.5h3M1517 662.5h1M1598 662.5h2M151 663.5h2M553 663.5h2M564 663.5h3M570 663.5h3M576 663.5h2M654 663.5h3M660 663.5h3M1594 663.5h1M150 664.5h1M558 664.5h3M666 664.5h3M672 664.5h3M678 664.5h2M1521 664.5h2M1592 664.5h2M680 665.5h1M684 665.5h1M870 665.5h1M1523 665.5h1M1588 665.5h1M685 666.5h2M869 666.5h1M1527 666.5h1M1586 666.5h2M146 667.5h1M690 667.5h3M868 667.5h1M1528 667.5h2M1533 667.5h2M1581 667.5h2M145 668.5h1M1534 668.5h1M1580 668.5h1M144 669.5h1M696 669.5h2M1538 669.5h1M1574 669.5h3M698 670.5h1M864 670.5h1M1539 670.5h2M1569 670.5h2M863 671.5h1M1544 671.5h3M1562 671.5h3M1568 671.5h1M139 672.5h2M862 672.5h1M1550 672.5h3M1556 672.5h3M138 673.5h1M702 673.5h2M72 674.5h3M78 674.5h3M133 674.5h2M704 674.5h1M6 675.5h1M66 675.5h3M84 675.5h3M132 675.5h1M7 676.5h2M61 676.5h2M90 676.5h3M126 676.5h3M708 676.5h1M858 676.5h1M60 677.5h1M96 677.5h3M121 677.5h2M709 677.5h2M857 677.5h1M55 678.5h2M102 678.5h3M108 678.5h1M114 678.5h3M120 678.5h1M856 678.5h1M12 679.5h1M54 679.5h1M109 679.5h2M13 680.5h2M714 680.5h2M49 681.5h2M716 681.5h1M18 682.5h2M48 682.5h1M852 682.5h1M20 683.5h1M719 683.5h2M851 683.5h1M24 684.5h3M42 684.5h3M721 684.5h1M850 684.5h1M30 685.5h3M36 685.5h3M725 687.5h2M727 688.5h1M846 688.5h1M844 689.5h2M731 691.5h1M732 692.5h2M840 693.5h1M839 694.5h1M737 695.5h1M838 695.5h1M738 696.5h2M834 696.5h1M832 697.5h2M743 699.5h1M827 699.5h2M744 700.5h1M826 700.5h1M745 701.5h1M821 702.5h2M749 703.5h1M820 703.5h1M750 704.5h2M815 705.5h2M755 706.5h1M814 706.5h1M756 707.5h2M810 708.5h1M761 709.5h3M808 709.5h2M803 710.5h2M767 711.5h3M802 711.5h1M773 712.5h3M779 712.5h2M796 712.5h3M781 713.5h1M785 713.5h3M790 713.5h3" fill="none" stroke="#ff0000" stroke-width="1" shape-rendering="crispEdges"/>
<text x="9.7" y="580" fill="#000" stroke="#000" stroke-width="0.14" font-size="9.8px" text-anchor="start" textLength="66.6" lengthAdjust="spacingAndGlyphs">MACD(12,26,9)</text>
<text x="78.9" y="580" fill="#000" stroke="#000" stroke-width="0.14" font-size="9.8px" text-anchor="start" textLength="28" lengthAdjust="spacingAndGlyphs">0.2237</text>
<text x="109.6" y="580" fill="#000" stroke="#000" stroke-width="0.14" font-size="9.8px" text-anchor="start" textLength="28.6" lengthAdjust="spacingAndGlyphs">0.2035</text>
<text x="1695" y="578" fill="#000" stroke="#000" stroke-width="0.14" font-size="9.8px" text-anchor="start" textLength="28" lengthAdjust="spacingAndGlyphs">0.5257</text>
<text x="1695" y="666" fill="#000" stroke="#000" stroke-width="0.14" font-size="9.8px" text-anchor="start" textLength="18.2" lengthAdjust="spacingAndGlyphs">0.00</text>
<text x="1695" y="723" fill="#000" stroke="#000" stroke-width="0.14" font-size="9.8px" text-anchor="start" textLength="31.5" lengthAdjust="spacingAndGlyphs">-0.3603</text>
<g shape-rendering="crispEdges">
<rect x="7" y="773" width="3" height="1" fill="#c0c0c0"/>
<rect x="13" y="773" width="3" height="1" fill="#c0c0c0"/>
<rect x="19" y="773" width="3" height="1" fill="#c0c0c0"/>
<rect x="25" y="773" width="3" height="1" fill="#c0c0c0"/>
<rect x="31" y="773" width="3" height="1" fill="#c0c0c0"/>
<rect x="37" y="773" width="3" height="1" fill="#c0c0c0"/>
<rect x="43" y="773" width="3" height="1" fill="#c0c0c0"/>
<rect x="49" y="773" width="3" height="1" fill="#c0c0c0"/>
<rect x="55" y="773" width="3" height="1" fill="#c0c0c0"/>
<rect x="61" y="773" width="3" height="1" fill="#c0c0c0"/>
<rect x="67" y="773" width="3" height="1" fill="#c0c0c0"/>
<rect x="73" y="773" width="3" height="1" fill="#c0c0c0"/>
<rect x="79" y="773" width="3" height="1" fill="#c0c0c0"/>
<rect x="85" y="773" width="3" height="1" fill="#c0c0c0"/>
<rect x="91" y="773" width="3" height="1" fill="#c0c0c0"/>
<rect x="97" y="773" width="3" height="1" fill="#c0c0c0"/>
<rect x="103" y="773" width="3" height="1" fill="#c0c0c0"/>
<rect x="109" y="773" width="3" height="1" fill="#c0c0c0"/>
<rect x="115" y="773" width="3" height="1" fill="#c0c0c0"/>
<rect x="121" y="773" width="3" height="1" fill="#c0c0c0"/>
<rect x="127" y="773" width="3" height="1" fill="#c0c0c0"/>
<rect x="133" y="773" width="3" height="1" fill="#c0c0c0"/>
<rect x="139" y="773" width="3" height="1" fill="#c0c0c0"/>
<rect x="145" y="773" width="3" height="1" fill="#c0c0c0"/>
<rect x="151" y="773" width="3" height="1" fill="#c0c0c0"/>
<rect x="157" y="773" width="3" height="1" fill="#c0c0c0"/>
<rect x="163" y="773" width="3" height="1" fill="#c0c0c0"/>
<rect x="169" y="773" width="3" height="1" fill="#c0c0c0"/>
<rect x="175" y="773" width="3" height="1" fill="#c0c0c0"/>
<rect x="181" y="773" width="3" height="1" fill="#c0c0c0"/>
<rect x="187" y="773" width="3" height="1" fill="#c0c0c0"/>
<rect x="193" y="773" width="3" height="1" fill="#c0c0c0"/>
<rect x="199" y="773" width="3" height="1" fill="#c0c0c0"/>
<rect x="205" y="773" width="3" height="1" fill="#c0c0c0"/>
<rect x="211" y="773" width="3" height="1" fill="#c0c0c0"/>
<rect x="217" y="773" width="3" height="1" fill="#c0c0c0"/>
<rect x="223" y="773" width="3" height="1" fill="#c0c0c0"/>
<rect x="229" y="773" width="3" height="1" fill="#c0c0c0"/>
<rect x="235" y="773" width="3" height="1" fill="#c0c0c0"/>
<rect x="241" y="773" width="3" height="1" fill="#c0c0c0"/>
<rect x="247" y="773" width="3" height="1" fill="#c0c0c0"/>
<rect x="253" y="773" width="3" height="1" fill="#c0c0c0"/>
<rect x="259" y="773" width="3" height="1" fill="#c0c0c0"/>
<rect x="265" y="773" width="3" height="1" fill="#c0c0c0"/>
<rect x="271" y="773" width="3" height="1" fill="#c0c0c0"/>
<rect x="277" y="773" width="3" height="1" fill="#c0c0c0"/>
<rect x="283" y="773" width="3" height="1" fill="#c0c0c0"/>
<rect x="289" y="773" width="3" height="1" fill="#c0c0c0"/>
<rect x="295" y="773" width="3" height="1" fill="#c0c0c0"/>
<rect x="301" y="773" width="3" height="1" fill="#c0c0c0"/>
<rect x="307" y="773" width="3" height="1" fill="#c0c0c0"/>
<rect x="313" y="773" width="3" height="1" fill="#c0c0c0"/>
<rect x="319" y="773" width="3" height="1" fill="#c0c0c0"/>
<rect x="325" y="773" width="3" height="1" fill="#c0c0c0"/>
<rect x="331" y="773" width="3" height="1" fill="#c0c0c0"/>
<rect x="337" y="773" width="3" height="1" fill="#c0c0c0"/>
<rect x="343" y="773" width="3" height="1" fill="#c0c0c0"/>
<rect x="349" y="773" width="3" height="1" fill="#c0c0c0"/>
<rect x="355" y="773" width="3" height="1" fill="#c0c0c0"/>
<rect x="361" y="773" width="3" height="1" fill="#c0c0c0"/>
<rect x="367" y="773" width="3" height="1" fill="#c0c0c0"/>
<rect x="373" y="773" width="3" height="1" fill="#c0c0c0"/>
<rect x="379" y="773" width="3" height="1" fill="#c0c0c0"/>
<rect x="385" y="773" width="3" height="1" fill="#c0c0c0"/>
<rect x="391" y="773" width="3" height="1" fill="#c0c0c0"/>
<rect x="397" y="773" width="3" height="1" fill="#c0c0c0"/>
<rect x="403" y="773" width="3" height="1" fill="#c0c0c0"/>
<rect x="409" y="773" width="3" height="1" fill="#c0c0c0"/>
<rect x="415" y="773" width="3" height="1" fill="#c0c0c0"/>
<rect x="421" y="773" width="3" height="1" fill="#c0c0c0"/>
<rect x="427" y="773" width="3" height="1" fill="#c0c0c0"/>
<rect x="433" y="773" width="3" height="1" fill="#c0c0c0"/>
<rect x="439" y="773" width="3" height="1" fill="#c0c0c0"/>
<rect x="445" y="773" width="3" height="1" fill="#c0c0c0"/>
<rect x="451" y="773" width="3" height="1" fill="#c0c0c0"/>
<rect x="457" y="773" width="3" height="1" fill="#c0c0c0"/>
<rect x="463" y="773" width="3" height="1" fill="#c0c0c0"/>
<rect x="469" y="773" width="3" height="1" fill="#c0c0c0"/>
<rect x="475" y="773" width="3" height="1" fill="#c0c0c0"/>
<rect x="481" y="773" width="3" height="1" fill="#c0c0c0"/>
<rect x="487" y="773" width="3" height="1" fill="#c0c0c0"/>
<rect x="493" y="773" width="3" height="1" fill="#c0c0c0"/>
<rect x="499" y="773" width="3" height="1" fill="#c0c0c0"/>
<rect x="505" y="773" width="3" height="1" fill="#c0c0c0"/>
<rect x="511" y="773" width="3" height="1" fill="#c0c0c0"/>
<rect x="517" y="773" width="3" height="1" fill="#c0c0c0"/>
<rect x="523" y="773" width="3" height="1" fill="#c0c0c0"/>
<rect x="529" y="773" width="3" height="1" fill="#c0c0c0"/>
<rect x="535" y="773" width="3" height="1" fill="#c0c0c0"/>
<rect x="541" y="773" width="3" height="1" fill="#c0c0c0"/>
<rect x="547" y="773" width="3" height="1" fill="#c0c0c0"/>
<rect x="553" y="773" width="3" height="1" fill="#c0c0c0"/>
<rect x="559" y="773" width="3" height="1" fill="#c0c0c0"/>
<rect x="565" y="773" width="3" height="1" fill="#c0c0c0"/>
<rect x="571" y="773" width="3" height="1" fill="#c0c0c0"/>
<rect x="577" y="773" width="3" height="1" fill="#c0c0c0"/>
<rect x="583" y="773" width="3" height="1" fill="#c0c0c0"/>
<rect x="589" y="773" width="3" height="1" fill="#c0c0c0"/>
<rect x="595" y="773" width="3" height="1" fill="#c0c0c0"/>
<rect x="601" y="773" width="3" height="1" fill="#c0c0c0"/>
<rect x="607" y="773" width="3" height="1" fill="#c0c0c0"/>
<rect x="613" y="773" width="3" height="1" fill="#c0c0c0"/>
<rect x="619" y="773" width="3" height="1" fill="#c0c0c0"/>
<rect x="625" y="773" width="3" height="1" fill="#c0c0c0"/>
<rect x="631" y="773" width="3" height="1" fill="#c0c0c0"/>
<rect x="637" y="773" width="3" height="1" fill="#c0c0c0"/>
<rect x="643" y="773" width="3" height="1" fill="#c0c0c0"/>
<rect x="649" y="773" width="3" height="1" fill="#c0c0c0"/>
<rect x="655" y="773" width="3" height="1" fill="#c0c0c0"/>
<rect x="661" y="773" width="3" height="1" fill="#c0c0c0"/>
<rect x="667" y="773" width="3" height="1" fill="#c0c0c0"/>
<rect x="673" y="773" width="3" height="1" fill="#c0c0c0"/>
<rect x="679" y="773" width="3" height="1" fill="#c0c0c0"/>
<rect x="685" y="773" width="3" height="1" fill="#c0c0c0"/>
<rect x="691" y="773" width="3" height="1" fill="#c0c0c0"/>
<rect x="697" y="773" width="3" height="1" fill="#c0c0c0"/>
<rect x="703" y="773" width="3" height="1" fill="#c0c0c0"/>
<rect x="709" y="773" width="3" height="1" fill="#c0c0c0"/>
<rect x="715" y="773" width="3" height="1" fill="#c0c0c0"/>
<rect x="721" y="773" width="3" height="1" fill="#c0c0c0"/>
<rect x="727" y="773" width="3" height="1" fill="#c0c0c0"/>
<rect x="733" y="773" width="3" height="1" fill="#c0c0c0"/>
<rect x="739" y="773" width="3" height="1" fill="#c0c0c0"/>
<rect x="745" y="773" width="3" height="1" fill="#c0c0c0"/>
<rect x="751" y="773" width="3" height="1" fill="#c0c0c0"/>
<rect x="757" y="773" width="3" height="1" fill="#c0c0c0"/>
<rect x="763" y="773" width="3" height="1" fill="#c0c0c0"/>
<rect x="769" y="773" width="3" height="1" fill="#c0c0c0"/>
<rect x="775" y="773" width="3" height="1" fill="#c0c0c0"/>
<rect x="781" y="773" width="3" height="1" fill="#c0c0c0"/>
<rect x="787" y="773" width="3" height="1" fill="#c0c0c0"/>
<rect x="793" y="773" width="3" height="1" fill="#c0c0c0"/>
<rect x="799" y="773" width="3" height="1" fill="#c0c0c0"/>
<rect x="805" y="773" width="3" height="1" fill="#c0c0c0"/>
<rect x="811" y="773" width="3" height="1" fill="#c0c0c0"/>
<rect x="817" y="773" width="3" height="1" fill="#c0c0c0"/>
<rect x="823" y="773" width="3" height="1" fill="#c0c0c0"/>
<rect x="829" y="773" width="3" height="1" fill="#c0c0c0"/>
<rect x="835" y="773" width="3" height="1" fill="#c0c0c0"/>
<rect x="841" y="773" width="3" height="1" fill="#c0c0c0"/>
<rect x="847" y="773" width="3" height="1" fill="#c0c0c0"/>
<rect x="853" y="773" width="3" height="1" fill="#c0c0c0"/>
<rect x="859" y="773" width="3" height="1" fill="#c0c0c0"/>
<rect x="865" y="773" width="3" height="1" fill="#c0c0c0"/>
<rect x="871" y="773" width="3" height="1" fill="#c0c0c0"/>
<rect x="877" y="773" width="3" height="1" fill="#c0c0c0"/>
<rect x="883" y="773" width="3" height="1" fill="#c0c0c0"/>
<rect x="889" y="773" width="3" height="1" fill="#c0c0c0"/>
<rect x="895" y="773" width="3" height="1" fill="#c0c0c0"/>
<rect x="901" y="773" width="3" height="1" fill="#c0c0c0"/>
<rect x="907" y="773" width="3" height="1" fill="#c0c0c0"/>
<rect x="913" y="773" width="3" height="1" fill="#c0c0c0"/>
<rect x="919" y="773" width="3" height="1" fill="#c0c0c0"/>
<rect x="925" y="773" width="3" height="1" fill="#c0c0c0"/>
<rect x="931" y="773" width="3" height="1" fill="#c0c0c0"/>
<rect x="937" y="773" width="3" height="1" fill="#c0c0c0"/>
<rect x="943" y="773" width="3" height="1" fill="#c0c0c0"/>
<rect x="949" y="773" width="3" height="1" fill="#c0c0c0"/>
<rect x="955" y="773" width="3" height="1" fill="#c0c0c0"/>
<rect x="961" y="773" width="3" height="1" fill="#c0c0c0"/>
<rect x="967" y="773" width="3" height="1" fill="#c0c0c0"/>
<rect x="973" y="773" width="3" height="1" fill="#c0c0c0"/>
<rect x="979" y="773" width="3" height="1" fill="#c0c0c0"/>
<rect x="985" y="773" width="3" height="1" fill="#c0c0c0"/>
<rect x="991" y="773" width="3" height="1" fill="#c0c0c0"/>
<rect x="997" y="773" width="3" height="1" fill="#c0c0c0"/>
<rect x="1003" y="773" width="3" height="1" fill="#c0c0c0"/>
<rect x="1009" y="773" width="3" height="1" fill="#c0c0c0"/>
<rect x="1015" y="773" width="3" height="1" fill="#c0c0c0"/>
<rect x="1021" y="773" width="3" height="1" fill="#c0c0c0"/>
<rect x="1027" y="773" width="3" height="1" fill="#c0c0c0"/>
<rect x="1033" y="773" width="3" height="1" fill="#c0c0c0"/>
<rect x="1039" y="773" width="3" height="1" fill="#c0c0c0"/>
<rect x="1045" y="773" width="3" height="1" fill="#c0c0c0"/>
<rect x="1051" y="773" width="3" height="1" fill="#c0c0c0"/>
<rect x="1057" y="773" width="3" height="1" fill="#c0c0c0"/>
<rect x="1063" y="773" width="3" height="1" fill="#c0c0c0"/>
<rect x="1069" y="773" width="3" height="1" fill="#c0c0c0"/>
<rect x="1075" y="773" width="3" height="1" fill="#c0c0c0"/>
<rect x="1081" y="773" width="3" height="1" fill="#c0c0c0"/>
<rect x="1087" y="773" width="3" height="1" fill="#c0c0c0"/>
<rect x="1093" y="773" width="3" height="1" fill="#c0c0c0"/>
<rect x="1099" y="773" width="3" height="1" fill="#c0c0c0"/>
<rect x="1105" y="773" width="3" height="1" fill="#c0c0c0"/>
<rect x="1111" y="773" width="3" height="1" fill="#c0c0c0"/>
<rect x="1117" y="773" width="3" height="1" fill="#c0c0c0"/>
<rect x="1123" y="773" width="3" height="1" fill="#c0c0c0"/>
<rect x="1129" y="773" width="3" height="1" fill="#c0c0c0"/>
<rect x="1135" y="773" width="3" height="1" fill="#c0c0c0"/>
<rect x="1141" y="773" width="3" height="1" fill="#c0c0c0"/>
<rect x="1147" y="773" width="3" height="1" fill="#c0c0c0"/>
<rect x="1153" y="773" width="3" height="1" fill="#c0c0c0"/>
<rect x="1159" y="773" width="3" height="1" fill="#c0c0c0"/>
<rect x="1165" y="773" width="3" height="1" fill="#c0c0c0"/>
<rect x="1171" y="773" width="3" height="1" fill="#c0c0c0"/>
<rect x="1177" y="773" width="3" height="1" fill="#c0c0c0"/>
<rect x="1183" y="773" width="3" height="1" fill="#c0c0c0"/>
<rect x="1189" y="773" width="3" height="1" fill="#c0c0c0"/>
<rect x="1195" y="773" width="3" height="1" fill="#c0c0c0"/>
<rect x="1201" y="773" width="3" height="1" fill="#c0c0c0"/>
<rect x="1207" y="773" width="3" height="1" fill="#c0c0c0"/>
<rect x="1213" y="773" width="3" height="1" fill="#c0c0c0"/>
<rect x="1219" y="773" width="3" height="1" fill="#c0c0c0"/>
<rect x="1225" y="773" width="3" height="1" fill="#c0c0c0"/>
<rect x="1231" y="773" width="3" height="1" fill="#c0c0c0"/>
<rect x="1237" y="773" width="3" height="1" fill="#c0c0c0"/>
<rect x="1243" y="773" width="3" height="1" fill="#c0c0c0"/>
<rect x="1249" y="773" width="3" height="1" fill="#c0c0c0"/>
<rect x="1255" y="773" width="3" height="1" fill="#c0c0c0"/>
<rect x="1261" y="773" width="3" height="1" fill="#c0c0c0"/>
<rect x="1267" y="773" width="3" height="1" fill="#c0c0c0"/>
<rect x="1273" y="773" width="3" height="1" fill="#c0c0c0"/>
<rect x="1279" y="773" width="3" height="1" fill="#c0c0c0"/>
<rect x="1285" y="773" width="3" height="1" fill="#c0c0c0"/>
<rect x="1291" y="773" width="3" height="1" fill="#c0c0c0"/>
<rect x="1297" y="773" width="3" height="1" fill="#c0c0c0"/>
<rect x="1303" y="773" width="3" height="1" fill="#c0c0c0"/>
<rect x="1309" y="773" width="3" height="1" fill="#c0c0c0"/>
<rect x="1315" y="773" width="3" height="1" fill="#c0c0c0"/>
<rect x="1321" y="773" width="3" height="1" fill="#c0c0c0"/>
<rect x="1327" y="773" width="3" height="1" fill="#c0c0c0"/>
<rect x="1333" y="773" width="3" height="1" fill="#c0c0c0"/>
<rect x="1339" y="773" width="3" height="1" fill="#c0c0c0"/>
<rect x="1345" y="773" width="3" height="1" fill="#c0c0c0"/>
<rect x="1351" y="773" width="3" height="1" fill="#c0c0c0"/>
<rect x="1357" y="773" width="3" height="1" fill="#c0c0c0"/>
<rect x="1363" y="773" width="3" height="1" fill="#c0c0c0"/>
<rect x="1369" y="773" width="3" height="1" fill="#c0c0c0"/>
<rect x="1375" y="773" width="3" height="1" fill="#c0c0c0"/>
<rect x="1381" y="773" width="3" height="1" fill="#c0c0c0"/>
<rect x="1387" y="773" width="3" height="1" fill="#c0c0c0"/>
<rect x="1393" y="773" width="3" height="1" fill="#c0c0c0"/>
<rect x="1399" y="773" width="3" height="1" fill="#c0c0c0"/>
<rect x="1405" y="773" width="3" height="1" fill="#c0c0c0"/>
<rect x="1411" y="773" width="3" height="1" fill="#c0c0c0"/>
<rect x="1417" y="773" width="3" height="1" fill="#c0c0c0"/>
<rect x="1423" y="773" width="3" height="1" fill="#c0c0c0"/>
<rect x="1429" y="773" width="3" height="1" fill="#c0c0c0"/>
<rect x="1435" y="773" width="3" height="1" fill="#c0c0c0"/>
<rect x="1441" y="773" width="3" height="1" fill="#c0c0c0"/>
<rect x="1447" y="773" width="3" height="1" fill="#c0c0c0"/>
<rect x="1453" y="773" width="3" height="1" fill="#c0c0c0"/>
<rect x="1459" y="773" width="3" height="1" fill="#c0c0c0"/>
<rect x="1465" y="773" width="3" height="1" fill="#c0c0c0"/>
<rect x="1471" y="773" width="3" height="1" fill="#c0c0c0"/>
<rect x="1477" y="773" width="3" height="1" fill="#c0c0c0"/>
<rect x="1483" y="773" width="3" height="1" fill="#c0c0c0"/>
<rect x="1489" y="773" width="3" height="1" fill="#c0c0c0"/>
<rect x="1495" y="773" width="3" height="1" fill="#c0c0c0"/>
<rect x="1501" y="773" width="3" height="1" fill="#c0c0c0"/>
<rect x="1507" y="773" width="3" height="1" fill="#c0c0c0"/>
<rect x="1513" y="773" width="3" height="1" fill="#c0c0c0"/>
<rect x="1519" y="773" width="3" height="1" fill="#c0c0c0"/>
<rect x="1525" y="773" width="3" height="1" fill="#c0c0c0"/>
<rect x="1531" y="773" width="3" height="1" fill="#c0c0c0"/>
<rect x="1537" y="773" width="3" height="1" fill="#c0c0c0"/>
<rect x="1543" y="773" width="3" height="1" fill="#c0c0c0"/>
<rect x="1549" y="773" width="3" height="1" fill="#c0c0c0"/>
<rect x="1555" y="773" width="3" height="1" fill="#c0c0c0"/>
<rect x="1561" y="773" width="3" height="1" fill="#c0c0c0"/>
<rect x="1567" y="773" width="3" height="1" fill="#c0c0c0"/>
<rect x="1573" y="773" width="3" height="1" fill="#c0c0c0"/>
<rect x="1579" y="773" width="3" height="1" fill="#c0c0c0"/>
<rect x="1585" y="773" width="3" height="1" fill="#c0c0c0"/>
<rect x="1591" y="773" width="3" height="1" fill="#c0c0c0"/>
<rect x="1597" y="773" width="3" height="1" fill="#c0c0c0"/>
<rect x="1603" y="773" width="3" height="1" fill="#c0c0c0"/>
<rect x="1609" y="773" width="3" height="1" fill="#c0c0c0"/>
<rect x="1615" y="773" width="3" height="1" fill="#c0c0c0"/>
<rect x="1621" y="773" width="3" height="1" fill="#c0c0c0"/>
<rect x="1627" y="773" width="3" height="1" fill="#c0c0c0"/>
<rect x="1633" y="773" width="3" height="1" fill="#c0c0c0"/>
<rect x="1639" y="773" width="3" height="1" fill="#c0c0c0"/>
<rect x="1645" y="773" width="3" height="1" fill="#c0c0c0"/>
<rect x="1651" y="773" width="3" height="1" fill="#c0c0c0"/>
<rect x="1657" y="773" width="3" height="1" fill="#c0c0c0"/>
<rect x="1663" y="773" width="3" height="1" fill="#c0c0c0"/>
<rect x="1669" y="773" width="3" height="1" fill="#c0c0c0"/>
<rect x="1675" y="773" width="3" height="1" fill="#c0c0c0"/>
<rect x="1681" y="773" width="3" height="1" fill="#c0c0c0"/>
<rect x="1687" y="773" width="3" height="1" fill="#c0c0c0"/>
<rect x="7" y="830" width="3" height="1" fill="#c0c0c0"/>
<rect x="13" y="830" width="3" height="1" fill="#c0c0c0"/>
<rect x="19" y="830" width="3" height="1" fill="#c0c0c0"/>
<rect x="25" y="830" width="3" height="1" fill="#c0c0c0"/>
<rect x="31" y="830" width="3" height="1" fill="#c0c0c0"/>
<rect x="37" y="830" width="3" height="1" fill="#c0c0c0"/>
<rect x="43" y="830" width="3" height="1" fill="#c0c0c0"/>
<rect x="49" y="830" width="3" height="1" fill="#c0c0c0"/>
<rect x="55" y="830" width="3" height="1" fill="#c0c0c0"/>
<rect x="61" y="830" width="3" height="1" fill="#c0c0c0"/>
<rect x="67" y="830" width="3" height="1" fill="#c0c0c0"/>
<rect x="73" y="830" width="3" height="1" fill="#c0c0c0"/>
<rect x="79" y="830" width="3" height="1" fill="#c0c0c0"/>
<rect x="85" y="830" width="3" height="1" fill="#c0c0c0"/>
<rect x="91" y="830" width="3" height="1" fill="#c0c0c0"/>
<rect x="97" y="830" width="3" height="1" fill="#c0c0c0"/>
<rect x="103" y="830" width="3" height="1" fill="#c0c0c0"/>
<rect x="109" y="830" width="3" height="1" fill="#c0c0c0"/>
<rect x="115" y="830" width="3" height="1" fill="#c0c0c0"/>
<rect x="121" y="830" width="3" height="1" fill="#c0c0c0"/>
<rect x="127" y="830" width="3" height="1" fill="#c0c0c0"/>
<rect x="133" y="830" width="3" height="1" fill="#c0c0c0"/>
<rect x="139" y="830" width="3" height="1" fill="#c0c0c0"/>
<rect x="145" y="830" width="3" height="1" fill="#c0c0c0"/>
<rect x="151" y="830" width="3" height="1" fill="#c0c0c0"/>
<rect x="157" y="830" width="3" height="1" fill="#c0c0c0"/>
<rect x="163" y="830" width="3" height="1" fill="#c0c0c0"/>
<rect x="169" y="830" width="3" height="1" fill="#c0c0c0"/>
<rect x="175" y="830" width="3" height="1" fill="#c0c0c0"/>
<rect x="181" y="830" width="3" height="1" fill="#c0c0c0"/>
<rect x="187" y="830" width="3" height="1" fill="#c0c0c0"/>
<rect x="193" y="830" width="3" height="1" fill="#c0c0c0"/>
<rect x="199" y="830" width="3" height="1" fill="#c0c0c0"/>
<rect x="205" y="830" width="3" height="1" fill="#c0c0c0"/>
<rect x="211" y="830" width="3" height="1" fill="#c0c0c0"/>
<rect x="217" y="830" width="3" height="1" fill="#c0c0c0"/>
<rect x="223" y="830" width="3" height="1" fill="#c0c0c0"/>
<rect x="229" y="830" width="3" height="1" fill="#c0c0c0"/>
<rect x="235" y="830" width="3" height="1" fill="#c0c0c0"/>
<rect x="241" y="830" width="3" height="1" fill="#c0c0c0"/>
<rect x="247" y="830" width="3" height="1" fill="#c0c0c0"/>
<rect x="253" y="830" width="3" height="1" fill="#c0c0c0"/>
<rect x="259" y="830" width="3" height="1" fill="#c0c0c0"/>
<rect x="265" y="830" width="3" height="1" fill="#c0c0c0"/>
<rect x="271" y="830" width="3" height="1" fill="#c0c0c0"/>
<rect x="277" y="830" width="3" height="1" fill="#c0c0c0"/>
<rect x="283" y="830" width="3" height="1" fill="#c0c0c0"/>
<rect x="289" y="830" width="3" height="1" fill="#c0c0c0"/>
<rect x="295" y="830" width="3" height="1" fill="#c0c0c0"/>
<rect x="301" y="830" width="3" height="1" fill="#c0c0c0"/>
<rect x="307" y="830" width="3" height="1" fill="#c0c0c0"/>
<rect x="313" y="830" width="3" height="1" fill="#c0c0c0"/>
<rect x="319" y="830" width="3" height="1" fill="#c0c0c0"/>
<rect x="325" y="830" width="3" height="1" fill="#c0c0c0"/>
<rect x="331" y="830" width="3" height="1" fill="#c0c0c0"/>
<rect x="337" y="830" width="3" height="1" fill="#c0c0c0"/>
<rect x="343" y="830" width="3" height="1" fill="#c0c0c0"/>
<rect x="349" y="830" width="3" height="1" fill="#c0c0c0"/>
<rect x="355" y="830" width="3" height="1" fill="#c0c0c0"/>
<rect x="361" y="830" width="3" height="1" fill="#c0c0c0"/>
<rect x="367" y="830" width="3" height="1" fill="#c0c0c0"/>
<rect x="373" y="830" width="3" height="1" fill="#c0c0c0"/>
<rect x="379" y="830" width="3" height="1" fill="#c0c0c0"/>
<rect x="385" y="830" width="3" height="1" fill="#c0c0c0"/>
<rect x="391" y="830" width="3" height="1" fill="#c0c0c0"/>
<rect x="397" y="830" width="3" height="1" fill="#c0c0c0"/>
<rect x="403" y="830" width="3" height="1" fill="#c0c0c0"/>
<rect x="409" y="830" width="3" height="1" fill="#c0c0c0"/>
<rect x="415" y="830" width="3" height="1" fill="#c0c0c0"/>
<rect x="421" y="830" width="3" height="1" fill="#c0c0c0"/>
<rect x="427" y="830" width="3" height="1" fill="#c0c0c0"/>
<rect x="433" y="830" width="3" height="1" fill="#c0c0c0"/>
<rect x="439" y="830" width="3" height="1" fill="#c0c0c0"/>
<rect x="445" y="830" width="3" height="1" fill="#c0c0c0"/>
<rect x="451" y="830" width="3" height="1" fill="#c0c0c0"/>
<rect x="457" y="830" width="3" height="1" fill="#c0c0c0"/>
<rect x="463" y="830" width="3" height="1" fill="#c0c0c0"/>
<rect x="469" y="830" width="3" height="1" fill="#c0c0c0"/>
<rect x="475" y="830" width="3" height="1" fill="#c0c0c0"/>
<rect x="481" y="830" width="3" height="1" fill="#c0c0c0"/>
<rect x="487" y="830" width="3" height="1" fill="#c0c0c0"/>
<rect x="493" y="830" width="3" height="1" fill="#c0c0c0"/>
<rect x="499" y="830" width="3" height="1" fill="#c0c0c0"/>
<rect x="505" y="830" width="3" height="1" fill="#c0c0c0"/>
<rect x="511" y="830" width="3" height="1" fill="#c0c0c0"/>
<rect x="517" y="830" width="3" height="1" fill="#c0c0c0"/>
<rect x="523" y="830" width="3" height="1" fill="#c0c0c0"/>
<rect x="529" y="830" width="3" height="1" fill="#c0c0c0"/>
<rect x="535" y="830" width="3" height="1" fill="#c0c0c0"/>
<rect x="541" y="830" width="3" height="1" fill="#c0c0c0"/>
<rect x="547" y="830" width="3" height="1" fill="#c0c0c0"/>
<rect x="553" y="830" width="3" height="1" fill="#c0c0c0"/>
<rect x="559" y="830" width="3" height="1" fill="#c0c0c0"/>
<rect x="565" y="830" width="3" height="1" fill="#c0c0c0"/>
<rect x="571" y="830" width="3" height="1" fill="#c0c0c0"/>
<rect x="577" y="830" width="3" height="1" fill="#c0c0c0"/>
<rect x="583" y="830" width="3" height="1" fill="#c0c0c0"/>
<rect x="589" y="830" width="3" height="1" fill="#c0c0c0"/>
<rect x="595" y="830" width="3" height="1" fill="#c0c0c0"/>
<rect x="601" y="830" width="3" height="1" fill="#c0c0c0"/>
<rect x="607" y="830" width="3" height="1" fill="#c0c0c0"/>
<rect x="613" y="830" width="3" height="1" fill="#c0c0c0"/>
<rect x="619" y="830" width="3" height="1" fill="#c0c0c0"/>
<rect x="625" y="830" width="3" height="1" fill="#c0c0c0"/>
<rect x="631" y="830" width="3" height="1" fill="#c0c0c0"/>
<rect x="637" y="830" width="3" height="1" fill="#c0c0c0"/>
<rect x="643" y="830" width="3" height="1" fill="#c0c0c0"/>
<rect x="649" y="830" width="3" height="1" fill="#c0c0c0"/>
<rect x="655" y="830" width="3" height="1" fill="#c0c0c0"/>
<rect x="661" y="830" width="3" height="1" fill="#c0c0c0"/>
<rect x="667" y="830" width="3" height="1" fill="#c0c0c0"/>
<rect x="673" y="830" width="3" height="1" fill="#c0c0c0"/>
<rect x="679" y="830" width="3" height="1" fill="#c0c0c0"/>
<rect x="685" y="830" width="3" height="1" fill="#c0c0c0"/>
<rect x="691" y="830" width="3" height="1" fill="#c0c0c0"/>
<rect x="697" y="830" width="3" height="1" fill="#c0c0c0"/>
<rect x="703" y="830" width="3" height="1" fill="#c0c0c0"/>
<rect x="709" y="830" width="3" height="1" fill="#c0c0c0"/>
<rect x="715" y="830" width="3" height="1" fill="#c0c0c0"/>
<rect x="721" y="830" width="3" height="1" fill="#c0c0c0"/>
<rect x="727" y="830" width="3" height="1" fill="#c0c0c0"/>
<rect x="733" y="830" width="3" height="1" fill="#c0c0c0"/>
<rect x="739" y="830" width="3" height="1" fill="#c0c0c0"/>
<rect x="745" y="830" width="3" height="1" fill="#c0c0c0"/>
<rect x="751" y="830" width="3" height="1" fill="#c0c0c0"/>
<rect x="757" y="830" width="3" height="1" fill="#c0c0c0"/>
<rect x="763" y="830" width="3" height="1" fill="#c0c0c0"/>
<rect x="769" y="830" width="3" height="1" fill="#c0c0c0"/>
<rect x="775" y="830" width="3" height="1" fill="#c0c0c0"/>
<rect x="781" y="830" width="3" height="1" fill="#c0c0c0"/>
<rect x="787" y="830" width="3" height="1" fill="#c0c0c0"/>
<rect x="793" y="830" width="3" height="1" fill="#c0c0c0"/>
<rect x="799" y="830" width="3" height="1" fill="#c0c0c0"/>
<rect x="805" y="830" width="3" height="1" fill="#c0c0c0"/>
<rect x="811" y="830" width="3" height="1" fill="#c0c0c0"/>
<rect x="817" y="830" width="3" height="1" fill="#c0c0c0"/>
<rect x="823" y="830" width="3" height="1" fill="#c0c0c0"/>
<rect x="829" y="830" width="3" height="1" fill="#c0c0c0"/>
<rect x="835" y="830" width="3" height="1" fill="#c0c0c0"/>
<rect x="841" y="830" width="3" height="1" fill="#c0c0c0"/>
<rect x="847" y="830" width="3" height="1" fill="#c0c0c0"/>
<rect x="853" y="830" width="3" height="1" fill="#c0c0c0"/>
<rect x="859" y="830" width="3" height="1" fill="#c0c0c0"/>
<rect x="865" y="830" width="3" height="1" fill="#c0c0c0"/>
<rect x="871" y="830" width="3" height="1" fill="#c0c0c0"/>
<rect x="877" y="830" width="3" height="1" fill="#c0c0c0"/>
<rect x="883" y="830" width="3" height="1" fill="#c0c0c0"/>
<rect x="889" y="830" width="3" height="1" fill="#c0c0c0"/>
<rect x="895" y="830" width="3" height="1" fill="#c0c0c0"/>
<rect x="901" y="830" width="3" height="1" fill="#c0c0c0"/>
<rect x="907" y="830" width="3" height="1" fill="#c0c0c0"/>
<rect x="913" y="830" width="3" height="1" fill="#c0c0c0"/>
<rect x="919" y="830" width="3" height="1" fill="#c0c0c0"/>
<rect x="925" y="830" width="3" height="1" fill="#c0c0c0"/>
<rect x="931" y="830" width="3" height="1" fill="#c0c0c0"/>
<rect x="937" y="830" width="3" height="1" fill="#c0c0c0"/>
<rect x="943" y="830" width="3" height="1" fill="#c0c0c0"/>
<rect x="949" y="830" width="3" height="1" fill="#c0c0c0"/>
<rect x="955" y="830" width="3" height="1" fill="#c0c0c0"/>
<rect x="961" y="830" width="3" height="1" fill="#c0c0c0"/>
<rect x="967" y="830" width="3" height="1" fill="#c0c0c0"/>
<rect x="973" y="830" width="3" height="1" fill="#c0c0c0"/>
<rect x="979" y="830" width="3" height="1" fill="#c0c0c0"/>
<rect x="985" y="830" width="3" height="1" fill="#c0c0c0"/>
<rect x="991" y="830" width="3" height="1" fill="#c0c0c0"/>
<rect x="997" y="830" width="3" height="1" fill="#c0c0c0"/>
<rect x="1003" y="830" width="3" height="1" fill="#c0c0c0"/>
<rect x="1009" y="830" width="3" height="1" fill="#c0c0c0"/>
<rect x="1015" y="830" width="3" height="1" fill="#c0c0c0"/>
<rect x="1021" y="830" width="3" height="1" fill="#c0c0c0"/>
<rect x="1027" y="830" width="3" height="1" fill="#c0c0c0"/>
<rect x="1033" y="830" width="3" height="1" fill="#c0c0c0"/>
<rect x="1039" y="830" width="3" height="1" fill="#c0c0c0"/>
<rect x="1045" y="830" width="3" height="1" fill="#c0c0c0"/>
<rect x="1051" y="830" width="3" height="1" fill="#c0c0c0"/>
<rect x="1057" y="830" width="3" height="1" fill="#c0c0c0"/>
<rect x="1063" y="830" width="3" height="1" fill="#c0c0c0"/>
<rect x="1069" y="830" width="3" height="1" fill="#c0c0c0"/>
<rect x="1075" y="830" width="3" height="1" fill="#c0c0c0"/>
<rect x="1081" y="830" width="3" height="1" fill="#c0c0c0"/>
<rect x="1087" y="830" width="3" height="1" fill="#c0c0c0"/>
<rect x="1093" y="830" width="3" height="1" fill="#c0c0c0"/>
<rect x="1099" y="830" width="3" height="1" fill="#c0c0c0"/>
<rect x="1105" y="830" width="3" height="1" fill="#c0c0c0"/>
<rect x="1111" y="830" width="3" height="1" fill="#c0c0c0"/>
<rect x="1117" y="830" width="3" height="1" fill="#c0c0c0"/>
<rect x="1123" y="830" width="3" height="1" fill="#c0c0c0"/>
<rect x="1129" y="830" width="3" height="1" fill="#c0c0c0"/>
<rect x="1135" y="830" width="3" height="1" fill="#c0c0c0"/>
<rect x="1141" y="830" width="3" height="1" fill="#c0c0c0"/>
<rect x="1147" y="830" width="3" height="1" fill="#c0c0c0"/>
<rect x="1153" y="830" width="3" height="1" fill="#c0c0c0"/>
<rect x="1159" y="830" width="3" height="1" fill="#c0c0c0"/>
<rect x="1165" y="830" width="3" height="1" fill="#c0c0c0"/>
<rect x="1171" y="830" width="3" height="1" fill="#c0c0c0"/>
<rect x="1177" y="830" width="3" height="1" fill="#c0c0c0"/>
<rect x="1183" y="830" width="3" height="1" fill="#c0c0c0"/>
<rect x="1189" y="830" width="3" height="1" fill="#c0c0c0"/>
<rect x="1195" y="830" width="3" height="1" fill="#c0c0c0"/>
<rect x="1201" y="830" width="3" height="1" fill="#c0c0c0"/>
<rect x="1207" y="830" width="3" height="1" fill="#c0c0c0"/>
<rect x="1213" y="830" width="3" height="1" fill="#c0c0c0"/>
<rect x="1219" y="830" width="3" height="1" fill="#c0c0c0"/>
<rect x="1225" y="830" width="3" height="1" fill="#c0c0c0"/>
<rect x="1231" y="830" width="3" height="1" fill="#c0c0c0"/>
<rect x="1237" y="830" width="3" height="1" fill="#c0c0c0"/>
<rect x="1243" y="830" width="3" height="1" fill="#c0c0c0"/>
<rect x="1249" y="830" width="3" height="1" fill="#c0c0c0"/>
<rect x="1255" y="830" width="3" height="1" fill="#c0c0c0"/>
<rect x="1261" y="830" width="3" height="1" fill="#c0c0c0"/>
<rect x="1267" y="830" width="3" height="1" fill="#c0c0c0"/>
<rect x="1273" y="830" width="3" height="1" fill="#c0c0c0"/>
<rect x="1279" y="830" width="3" height="1" fill="#c0c0c0"/>
<rect x="1285" y="830" width="3" height="1" fill="#c0c0c0"/>
<rect x="1291" y="830" width="3" height="1" fill="#c0c0c0"/>
<rect x="1297" y="830" width="3" height="1" fill="#c0c0c0"/>
<rect x="1303" y="830" width="3" height="1" fill="#c0c0c0"/>
<rect x="1309" y="830" width="3" height="1" fill="#c0c0c0"/>
<rect x="1315" y="830" width="3" height="1" fill="#c0c0c0"/>
<rect x="1321" y="830" width="3" height="1" fill="#c0c0c0"/>
<rect x="1327" y="830" width="3" height="1" fill="#c0c0c0"/>
<rect x="1333" y="830" width="3" height="1" fill="#c0c0c0"/>
<rect x="1339" y="830" width="3" height="1" fill="#c0c0c0"/>
<rect x="1345" y="830" width="3" height="1" fill="#c0c0c0"/>
<rect x="1351" y="830" width="3" height="1" fill="#c0c0c0"/>
<rect x="1357" y="830" width="3" height="1" fill="#c0c0c0"/>
<rect x="1363" y="830" width="3" height="1" fill="#c0c0c0"/>
<rect x="1369" y="830" width="3" height="1" fill="#c0c0c0"/>
<rect x="1375" y="830" width="3" height="1" fill="#c0c0c0"/>
<rect x="1381" y="830" width="3" height="1" fill="#c0c0c0"/>
<rect x="1387" y="830" width="3" height="1" fill="#c0c0c0"/>
<rect x="1393" y="830" width="3" height="1" fill="#c0c0c0"/>
<rect x="1399" y="830" width="3" height="1" fill="#c0c0c0"/>
<rect x="1405" y="830" width="3" height="1" fill="#c0c0c0"/>
<rect x="1411" y="830" width="3" height="1" fill="#c0c0c0"/>
<rect x="1417" y="830" width="3" height="1" fill="#c0c0c0"/>
<rect x="1423" y="830" width="3" height="1" fill="#c0c0c0"/>
<rect x="1429" y="830" width="3" height="1" fill="#c0c0c0"/>
<rect x="1435" y="830" width="3" height="1" fill="#c0c0c0"/>
<rect x="1441" y="830" width="3" height="1" fill="#c0c0c0"/>
<rect x="1447" y="830" width="3" height="1" fill="#c0c0c0"/>
<rect x="1453" y="830" width="3" height="1" fill="#c0c0c0"/>
<rect x="1459" y="830" width="3" height="1" fill="#c0c0c0"/>
<rect x="1465" y="830" width="3" height="1" fill="#c0c0c0"/>
<rect x="1471" y="830" width="3" height="1" fill="#c0c0c0"/>
<rect x="1477" y="830" width="3" height="1" fill="#c0c0c0"/>
<rect x="1483" y="830" width="3" height="1" fill="#c0c0c0"/>
<rect x="1489" y="830" width="3" height="1" fill="#c0c0c0"/>
<rect x="1495" y="830" width="3" height="1" fill="#c0c0c0"/>
<rect x="1501" y="830" width="3" height="1" fill="#c0c0c0"/>
<rect x="1507" y="830" width="3" height="1" fill="#c0c0c0"/>
<rect x="1513" y="830" width="3" height="1" fill="#c0c0c0"/>
<rect x="1519" y="830" width="3" height="1" fill="#c0c0c0"/>
<rect x="1525" y="830" width="3" height="1" fill="#c0c0c0"/>
<rect x="1531" y="830" width="3" height="1" fill="#c0c0c0"/>
<rect x="1537" y="830" width="3" height="1" fill="#c0c0c0"/>
<rect x="1543" y="830" width="3" height="1" fill="#c0c0c0"/>
<rect x="1549" y="830" width="3" height="1" fill="#c0c0c0"/>
<rect x="1555" y="830" width="3" height="1" fill="#c0c0c0"/>
<rect x="1561" y="830" width="3" height="1" fill="#c0c0c0"/>
<rect x="1567" y="830" width="3" height="1" fill="#c0c0c0"/>
<rect x="1573" y="830" width="3" height="1" fill="#c0c0c0"/>
<rect x="1579" y="830" width="3" height="1" fill="#c0c0c0"/>
<rect x="1585" y="830" width="3" height="1" fill="#c0c0c0"/>
<rect x="1591" y="830" width="3" height="1" fill="#c0c0c0"/>
<rect x="1597" y="830" width="3" height="1" fill="#c0c0c0"/>
<rect x="1603" y="830" width="3" height="1" fill="#c0c0c0"/>
<rect x="1609" y="830" width="3" height="1" fill="#c0c0c0"/>
<rect x="1615" y="830" width="3" height="1" fill="#c0c0c0"/>
<rect x="1621" y="830" width="3" height="1" fill="#c0c0c0"/>
<rect x="1627" y="830" width="3" height="1" fill="#c0c0c0"/>
<rect x="1633" y="830" width="3" height="1" fill="#c0c0c0"/>
<rect x="1639" y="830" width="3" height="1" fill="#c0c0c0"/>
<rect x="1645" y="830" width="3" height="1" fill="#c0c0c0"/>
<rect x="1651" y="830" width="3" height="1" fill="#c0c0c0"/>
<rect x="1657" y="830" width="3" height="1" fill="#c0c0c0"/>
<rect x="1663" y="830" width="3" height="1" fill="#c0c0c0"/>
<rect x="1669" y="830" width="3" height="1" fill="#c0c0c0"/>
<rect x="1675" y="830" width="3" height="1" fill="#c0c0c0"/>
<rect x="1681" y="830" width="3" height="1" fill="#c0c0c0"/>
<rect x="1687" y="830" width="3" height="1" fill="#c0c0c0"/>
<rect x="1692" y="729" width="1" height="1" fill="#000"/>
<rect x="1692" y="773" width="1" height="1" fill="#000"/>
<rect x="1692" y="830" width="1" height="1" fill="#000"/>
<rect x="1692" y="873" width="1" height="1" fill="#000"/>
</g>
<path d="M886 765.5h1M885.5 766v2M887 766.5h1M888.5 767v2M884.5 768v2M342 769.5h9M889 769.5h1M341.5 770v2M351 770.5h1M883.5 770v2M890 770.5h1M352 771.5h1M891.5 771v2M340.5 772v2M353 772.5h1M882.5 772v2M354 773.5h1M892 773.5h1M339.5 774v2M355 774.5h1M881.5 774v2M893 774.5h1M356 775.5h1M894.5 775v2M338.5 776v2M357 776.5h1M880.5 776v2M358 777.5h1M895.5 777v2M337.5 778v2M359 778.5h1M879 778.5h1M360 779.5h1M878.5 779v2M896.5 779v2M336.5 780v2M361 780.5h1M362 781.5h1M429 781.5h2M876 781.5h2M897 781.5h1M1085 781.5h2M1601 781.5h11M335 782.5h1M363 782.5h1M426 782.5h3M431 782.5h1M874 782.5h2M898.5 782v2M1083 782.5h2M1087 782.5h1M1390 782.5h1M1597 782.5h4M1612 782.5h11M334.5 783v2M364 783.5h1M373 783.5h2M424 783.5h2M432 783.5h1M873 783.5h1M1082 783.5h1M1088 783.5h1M1389.5 783v2M1391 783.5h1M1593 783.5h4M1623 783.5h1M162 784.5h7M365 784.5h1M368 784.5h5M375 784.5h3M422 784.5h2M433 784.5h1M871 784.5h2M899.5 784v2M1080 784.5h2M1089 784.5h1M1392 784.5h2M1590 784.5h3M1624 784.5h1M1638 784.5h6M1649 784.5h15M158 785.5h4M169 785.5h2M197 785.5h2M333 785.5h1M366 785.5h2M378 785.5h2M406 785.5h1M421 785.5h1M434 785.5h1M866 785.5h5M1079 785.5h1M1090 785.5h1M1302 785.5h3M1326 785.5h1M1388 785.5h1M1394 785.5h2M1589 785.5h1M1625.5 785v2M1637 785.5h1M1644 785.5h5M1664 785.5h3M142 786.5h1M157 786.5h1M171 786.5h3M195 786.5h2M199 786.5h1M332 786.5h1M380 786.5h2M405 786.5h1M407 786.5h2M419 786.5h2M435 786.5h1M445 786.5h2M846 786.5h20M900.5 786v2M1076 786.5h3M1091.5 786v2M1165 786.5h3M1180 786.5h3M1301.5 786v2M1305 786.5h4M1324 786.5h2M1327 786.5h1M1387 786.5h1M1396 786.5h1M1588.5 786v2M1636 786.5h1M1667 786.5h3M140 787.5h2M143 787.5h1M156 787.5h1M174 787.5h11M194 787.5h1M200 787.5h1M331 787.5h1M382 787.5h1M404 787.5h1M409 787.5h2M418 787.5h1M436.5 787v2M443 787.5h2M447.5 787v3M846 787.5h1M1072 787.5h4M1150 787.5h5M1161 787.5h4M1168 787.5h4M1176 787.5h4M1183 787.5h1M1309 787.5h3M1322 787.5h2M1328 787.5h1M1354 787.5h14M1386 787.5h1M1397 787.5h2M1626 787.5h1M1635 787.5h1M1670 787.5h1M138 788.5h2M144 788.5h2M154 788.5h2M185 788.5h3M192 788.5h2M201 788.5h1M330 788.5h1M383.5 788v2M402 788.5h2M411 788.5h1M416 788.5h2M441 788.5h2M845.5 788v2M901.5 788v2M942 788.5h1M1070 788.5h2M1092 788.5h1M1148 788.5h2M1155 788.5h6M1172 788.5h4M1184.5 788v2M1300 788.5h1M1312 788.5h3M1321 788.5h1M1329 788.5h1M1350 788.5h4M1368 788.5h3M1385 788.5h1M1399 788.5h1M1587 788.5h1M1627 788.5h1M1634 788.5h1M136 789.5h2M146 789.5h1M153 789.5h1M188 789.5h4M202 789.5h1M329 789.5h1M401 789.5h1M412 789.5h2M415 789.5h1M437 789.5h1M439 789.5h2M906 789.5h9M940 789.5h2M943 789.5h1M1068 789.5h2M1093 789.5h1M1147 789.5h1M1299.5 789v2M1315 789.5h3M1319 789.5h2M1330 789.5h1M1348 789.5h2M1371 789.5h3M1384.5 789v2M1400 789.5h1M1586 789.5h1M1628 789.5h1M1633 789.5h1M135 790.5h1M147 790.5h2M152 790.5h1M203 790.5h1M328 790.5h1M384 790.5h1M400 790.5h1M414 790.5h1M438 790.5h1M448.5 790v2M844.5 790v3M902 790.5h4M915 790.5h5M939 790.5h1M944 790.5h2M1067 790.5h1M1094.5 790v2M1146 790.5h1M1185 790.5h1M1318 790.5h1M1331 790.5h1M1346 790.5h2M1374 790.5h3M1401 790.5h2M1585 790.5h1M1629.5 790v2M1632 790.5h1M132 791.5h3M149 791.5h1M151 791.5h1M204 791.5h1M327 791.5h1M385.5 791v2M399 791.5h1M920 791.5h5M937 791.5h2M946 791.5h1M1065 791.5h2M1145 791.5h1M1186 791.5h1M1298 791.5h1M1332 791.5h1M1344 791.5h2M1377 791.5h4M1383 791.5h1M1403 791.5h1M1584 791.5h1M1631 791.5h1M130 792.5h2M150 792.5h1M205 792.5h1M325 792.5h2M398 792.5h1M449.5 792v2M925 792.5h6M935 792.5h2M947 792.5h2M1046 792.5h5M1063 792.5h2M1095.5 792v2M1134 792.5h2M1143 792.5h2M1187.5 792v2M1297.5 792v2M1333 792.5h1M1343 792.5h1M1381 792.5h2M1404 792.5h1M1454 792.5h9M1583 792.5h1M1630 792.5h1M9 793.5h6M127 793.5h3M206 793.5h11M323 793.5h2M386 793.5h1M397 793.5h1M798 793.5h1M843.5 793v3M931 793.5h4M949 793.5h1M954 793.5h5M1045 793.5h1M1051 793.5h12M1133 793.5h1M1136 793.5h7M1205 793.5h3M1334 793.5h9M1405 793.5h1M1452 793.5h2M1463 793.5h1M1582 793.5h1M6 794.5h3M15 794.5h1M54 794.5h1M102 794.5h3M117 794.5h10M217 794.5h6M321 794.5h2M387.5 794v2M395 794.5h2M450.5 794v2M542 794.5h1M563 794.5h5M798 794.5h3M950 794.5h4M959 794.5h2M1044 794.5h1M1096.5 794v3M1132 794.5h1M1188 794.5h1M1203 794.5h2M1208 794.5h2M1296 794.5h1M1406 794.5h2M1451 794.5h1M1464 794.5h1M1581 794.5h1M16 795.5h1M53 795.5h1M55.5 795v2M101 795.5h1M105 795.5h2M115 795.5h2M223 795.5h1M246 795.5h2M320 795.5h1M394 795.5h1M541 795.5h1M543.5 795v3M559 795.5h4M568 795.5h2M797.5 795v2M801 795.5h1M961 795.5h1M1043 795.5h1M1130 795.5h2M1189.5 795v2M1201 795.5h2M1210 795.5h1M1295.5 795v2M1408 795.5h2M1449 795.5h2M1465 795.5h1M1580.5 795v2M17 796.5h1M52 796.5h1M100.5 796v2M107 796.5h2M112 796.5h3M224.5 796v2M244 796.5h2M248 796.5h3M308 796.5h12M388 796.5h1M393 796.5h1M451.5 796v3M540.5 796v2M558 796.5h1M570 796.5h2M802 796.5h2M842.5 796v2M962 796.5h2M973 796.5h2M1029 796.5h2M1041 796.5h2M1129 796.5h1M1199 796.5h2M1211 796.5h2M1269 796.5h2M1410 796.5h2M1421 796.5h2M1447 796.5h2M1466 796.5h1M1534 796.5h1M18 797.5h1M51 797.5h1M56.5 797v2M109 797.5h3M243 797.5h1M251 797.5h2M302 797.5h6M389.5 797v2M392 797.5h1M557.5 797v2M572 797.5h2M796.5 797v3M804 797.5h2M964 797.5h2M969 797.5h4M975 797.5h1M1025 797.5h4M1031 797.5h3M1040 797.5h1M1097.5 797v2M1128 797.5h1M1190 797.5h9M1213 797.5h2M1265 797.5h4M1271 797.5h3M1294.5 797v2M1412 797.5h2M1417 797.5h4M1423 797.5h2M1442 797.5h5M1467 797.5h1M1531 797.5h3M1535 797.5h3M1579 797.5h1M19 798.5h1M50 798.5h1M99.5 798v2M225 798.5h1M242 798.5h1M253 798.5h18M301.5 798v2M391 798.5h1M539 798.5h1M544.5 798v2M574 798.5h13M637 798.5h3M806 798.5h2M829 798.5h2M841.5 798v3M966 798.5h3M976 798.5h1M1021 798.5h4M1034 798.5h2M1039 798.5h1M1127 798.5h1M1215 798.5h1M1261 798.5h4M1274 798.5h2M1414 798.5h3M1425 798.5h2M1437 798.5h5M1468 798.5h1M1529 798.5h2M1538 798.5h2M1578 798.5h1M20.5 799v2M49.5 799v2M57.5 799v2M226 799.5h1M240 799.5h2M271 799.5h1M390 799.5h1M452.5 799v2M538 799.5h1M556.5 799v3M587 799.5h4M635 799.5h2M640 799.5h3M808 799.5h4M825 799.5h4M831 799.5h1M977 799.5h1M1019 799.5h2M1036 799.5h3M1098.5 799v3M1125 799.5h2M1216.5 799v2M1259 799.5h2M1276 799.5h3M1293 799.5h1M1427 799.5h2M1433 799.5h4M1469 799.5h1M1526 799.5h3M1540 799.5h2M1577 799.5h1M28 800.5h4M98 800.5h1M227 800.5h1M239 800.5h1M272 800.5h1M300 800.5h1M537.5 800v2M545.5 800v3M591 800.5h1M632 800.5h3M643 800.5h3M795.5 800v2M812 800.5h13M832 800.5h1M978 800.5h1M1016 800.5h3M1123 800.5h2M1230 800.5h2M1256 800.5h3M1279.5 800v2M1292.5 800v2M1429 800.5h4M1470.5 800v2M1525 800.5h1M1542 800.5h2M1564 800.5h4M1576.5 800v2M21 801.5h1M24 801.5h4M32 801.5h2M48 801.5h1M58.5 801v2M97.5 801v2M228 801.5h1M237 801.5h2M273 801.5h1M299 801.5h1M453.5 801v2M592 801.5h2M630 801.5h2M646 801.5h7M833 801.5h1M840.5 801v2M979.5 801v2M1013 801.5h3M1121 801.5h2M1217 801.5h1M1228 801.5h2M1232 801.5h3M1250 801.5h6M1524 801.5h1M1544 801.5h2M1560 801.5h4M1568 801.5h3M22 802.5h2M34 802.5h1M47 802.5h1M229 802.5h1M233 802.5h4M274 802.5h1M298 802.5h1M507 802.5h5M525 802.5h3M536 802.5h1M555.5 802v2M594 802.5h2M629 802.5h1M653 802.5h18M794.5 802v3M834 802.5h1M1009 802.5h4M1099.5 802v2M1119 802.5h2M1218 802.5h1M1227 802.5h1M1235 802.5h2M1242 802.5h8M1280 802.5h1M1291 802.5h1M1471.5 802v2M1523 802.5h1M1546 802.5h2M1556 802.5h4M1571 802.5h2M1575 802.5h1M35 803.5h2M43 803.5h4M59.5 803v2M96 803.5h1M230 803.5h3M275 803.5h1M297 803.5h1M454 803.5h1M503 803.5h4M512 803.5h2M523 803.5h2M528 803.5h3M535.5 803v2M546.5 803v2M596 803.5h1M627 803.5h2M671 803.5h1M835.5 803v2M839.5 803v3M980 803.5h1M997 803.5h12M1117 803.5h2M1219 803.5h1M1226 803.5h1M1237 803.5h5M1281 803.5h1M1290.5 803v2M1522 803.5h1M1548 803.5h2M1552 803.5h4M1573 803.5h2M37 804.5h6M95.5 804v2M276 804.5h1M296.5 804v2M454 804.5h2M502 804.5h1M514 804.5h2M521 804.5h2M531 804.5h3M554.5 804v2M597 804.5h2M626 804.5h1M672 804.5h1M981 804.5h1M995 804.5h2M1100.5 804v3M1115 804.5h2M1220 804.5h1M1224 804.5h2M1282.5 804v2M1472.5 804v2M1509 804.5h3M1521 804.5h1M1550 804.5h2M60.5 805v2M277 805.5h1M456 805.5h2M501 805.5h1M516 805.5h2M519 805.5h2M534 805.5h1M547.5 805v2M599 805.5h2M613 805.5h4M624 805.5h2M673.5 805v2M793.5 805v2M836 805.5h1M982 805.5h3M993 805.5h2M1113 805.5h2M1221 805.5h1M1223 805.5h1M1289.5 805v2M1507 805.5h2M1512 805.5h2M1520 805.5h1M94 806.5h1M278 806.5h2M295 806.5h1M458 806.5h2M468 806.5h5M484 806.5h3M500 806.5h1M518 806.5h1M553.5 806v2M601 806.5h1M611 806.5h2M617 806.5h4M623 806.5h1M837 806.5h2M985 806.5h4M991 806.5h2M1111 806.5h2M1222 806.5h1M1283 806.5h1M1473.5 806v2M1505 806.5h2M1514 806.5h3M1519 806.5h1M61.5 807v2M93 807.5h1M280 807.5h2M292 807.5h3M460 807.5h2M463 807.5h5M473 807.5h5M479 807.5h5M487 807.5h1M499 807.5h1M548.5 807v3M602 807.5h2M609 807.5h2M621 807.5h2M674 807.5h1M792.5 807v2M838 807.5h1M989 807.5h2M1101.5 807v2M1109 807.5h2M1284 807.5h1M1288 807.5h1M1503 807.5h2M1517 807.5h2M92 808.5h1M282 808.5h3M289 808.5h3M462 808.5h1M478 808.5h1M488 808.5h1M498.5 808v2M552.5 808v2M604 808.5h2M607 808.5h2M675 808.5h1M755 808.5h4M1106 808.5h3M1285.5 808v2M1287.5 808v2M1474.5 808v2M1494 808.5h9M62 809.5h1M91 809.5h1M285 809.5h4M489 809.5h1M606 809.5h1M676 809.5h1M750 809.5h5M759 809.5h2M791.5 809v3M1102 809.5h1M1104 809.5h2M1494 809.5h1M62 810.5h4M89 810.5h2M490 810.5h1M497 810.5h1M549.5 810v2M551.5 810v2M677.5 810v2M750 810.5h1M761 810.5h1M1102 810.5h2M1286 810.5h1M1475.5 810v2M1493.5 810v3M66 811.5h5M88 811.5h1M491 811.5h1M496 811.5h1M749.5 811v2M762 811.5h2M71 812.5h1M87 812.5h1M492 812.5h1M495.5 812v2M550.5 812v2M678 812.5h2M764 812.5h1M790.5 812v2M1476.5 812v2M72 813.5h2M86 813.5h1M493 813.5h1M680 813.5h1M748 813.5h1M765 813.5h1M1492.5 813v3M74 814.5h1M84 814.5h2M494 814.5h1M681 814.5h2M747.5 814v2M766 814.5h3M789 814.5h1M1477.5 814v2M75 815.5h1M82 815.5h2M683 815.5h1M726 815.5h3M769 815.5h2M788 815.5h1M76 816.5h2M80 816.5h2M684 816.5h1M725 816.5h1M729 816.5h5M746.5 816v2M771 816.5h3M787 816.5h1M1478.5 816v2M1491.5 816v3M78 817.5h2M685 817.5h2M723 817.5h2M734 817.5h1M774 817.5h2M786 817.5h1M687.5 818v2M709 818.5h3M722 818.5h1M735 818.5h1M745.5 818v2M776 818.5h2M785 818.5h1M1479.5 818v2M707 819.5h2M712 819.5h2M721 819.5h1M736 819.5h1M778 819.5h2M784 819.5h1M1490.5 819v3M688 820.5h1M705 820.5h2M714 820.5h3M719 820.5h2M737 820.5h2M744.5 820v2M780 820.5h2M783 820.5h1M1480.5 820v2M689 821.5h1M703 821.5h2M717 821.5h2M739 821.5h1M782 821.5h1M690.5 822v2M701 822.5h2M740 822.5h1M743.5 822v2M1481.5 822v2M1489.5 822v3M700 823.5h1M741 823.5h1M691 824.5h1M699 824.5h1M742 824.5h1M1482.5 824v2M692 825.5h1M698 825.5h1M1488.5 825v3M693.5 826v2M696 826.5h2M1483.5 826v2M695 827.5h1M694 828.5h1M1484 828.5h1M1487.5 828v3M1485.5 829v2M1486.5 831v2" fill="none" stroke="#1e90ff" stroke-width="1" shape-rendering="crispEdges"/>
<text x="10.0" y="741" fill="#000" stroke="#000" stroke-width="0.14" font-size="9.8px" text-anchor="start" textLength="31.5" lengthAdjust="spacingAndGlyphs">RSI(14)</text>
<text x="44.8" y="741" fill="#000" stroke="#000" stroke-width="0.14" font-size="9.8px" text-anchor="start" textLength="33.4" lengthAdjust="spacingAndGlyphs">59.9759</text>
<text x="1695" y="739" fill="#000" stroke="#000" stroke-width="0.14" font-size="9.8px" text-anchor="start" textLength="15" lengthAdjust="spacingAndGlyphs">100</text>
<text x="1695" y="777" fill="#000" stroke="#000" stroke-width="0.14" font-size="9.8px" text-anchor="start" textLength="10" lengthAdjust="spacingAndGlyphs">70</text>
<text x="1695" y="834" fill="#000" stroke="#000" stroke-width="0.14" font-size="9.8px" text-anchor="start" textLength="10" lengthAdjust="spacingAndGlyphs">30</text>
<text x="1695" y="871" fill="#000" stroke="#000" stroke-width="0.14" font-size="9.8px" text-anchor="start" textLength="5" lengthAdjust="spacingAndGlyphs">0</text>
<g shape-rendering="crispEdges">
<rect x="6" y="875" width="1" height="3" fill="#000"/>
<rect x="70" y="875" width="1" height="3" fill="#000"/>
<rect x="134" y="875" width="1" height="3" fill="#000"/>
<rect x="198" y="875" width="1" height="3" fill="#000"/>
<rect x="262" y="875" width="1" height="3" fill="#000"/>
<rect x="326" y="875" width="1" height="3" fill="#000"/>
<rect x="390" y="875" width="1" height="3" fill="#000"/>
<rect x="454" y="875" width="1" height="3" fill="#000"/>
<rect x="518" y="875" width="1" height="3" fill="#000"/>
<rect x="582" y="875" width="1" height="3" fill="#000"/>
<rect x="646" y="875" width="1" height="3" fill="#000"/>
<rect x="710" y="875" width="1" height="3" fill="#000"/>
<rect x="774" y="875" width="1" height="3" fill="#000"/>
<rect x="838" y="875" width="1" height="3" fill="#000"/>
<rect x="902" y="875" width="1" height="3" fill="#000"/>
<rect x="966" y="875" width="1" height="3" fill="#000"/>
<rect x="1030" y="875" width="1" height="3" fill="#000"/>
<rect x="1094" y="875" width="1" height="3" fill="#000"/>
<rect x="1158" y="875" width="1" height="3" fill="#000"/>
<rect x="1222" y="875" width="1" height="3" fill="#000"/>
<rect x="1286" y="875" width="1" height="3" fill="#000"/>
<rect x="1350" y="875" width="1" height="3" fill="#000"/>
<rect x="1414" y="875" width="1" height="3" fill="#000"/>
<rect x="1478" y="875" width="1" height="3" fill="#000"/>
<rect x="1542" y="875" width="1" height="3" fill="#000"/>
<rect x="1606" y="875" width="1" height="3" fill="#000"/>
<rect x="1670" y="875" width="1" height="3" fill="#000"/>
</g>
<text x="5.0" y="887" fill="#000" stroke="#000" stroke-width="0.14" font-size="9.8px" text-anchor="start" textLength="46.9" lengthAdjust="spacingAndGlyphs">10 Jul 2020</text>
<text x="69.0" y="887" fill="#000" stroke="#000" stroke-width="0.14" font-size="9.8px" text-anchor="start" textLength="50.3" lengthAdjust="spacingAndGlyphs">13 Jul 20:00</text>
<text x="133.0" y="887" fill="#000" stroke="#000" stroke-width="0.14" font-size="9.8px" text-anchor="start" textLength="50.3" lengthAdjust="spacingAndGlyphs">15 Jul 04:00</text>
<text x="197.0" y="887" fill="#000" stroke="#000" stroke-width="0.14" font-size="9.8px" text-anchor="start" textLength="50.3" lengthAdjust="spacingAndGlyphs">16 Jul 12:00</text>
<text x="261.0" y="887" fill="#000" stroke="#000" stroke-width="0.14" font-size="9.8px" text-anchor="start" textLength="50.3" lengthAdjust="spacingAndGlyphs">17 Jul 20:00</text>
<text x="325.0" y="887" fill="#000" stroke="#000" stroke-width="0.14" font-size="9.8px" text-anchor="start" textLength="50.3" lengthAdjust="spacingAndGlyphs">21 Jul 00:00</text>
<text x="389.0" y="887" fill="#000" stroke="#000" stroke-width="0.14" font-size="9.8px" text-anchor="start" textLength="50.3" lengthAdjust="spacingAndGlyphs">22 Jul 08:00</text>
<text x="453.0" y="887" fill="#000" stroke="#000" stroke-width="0.14" font-size="9.8px" text-anchor="start" textLength="50.3" lengthAdjust="spacingAndGlyphs">23 Jul 16:00</text>
<text x="517.0" y="887" fill="#000" stroke="#000" stroke-width="0.14" font-size="9.8px" text-anchor="start" textLength="50.3" lengthAdjust="spacingAndGlyphs">26 Jul 23:00</text>
<text x="581.0" y="887" fill="#000" stroke="#000" stroke-width="0.14" font-size="9.8px" text-anchor="start" textLength="50.3" lengthAdjust="spacingAndGlyphs">28 Jul 04:00</text>
<text x="645.0" y="887" fill="#000" stroke="#000" stroke-width="0.14" font-size="9.8px" text-anchor="start" textLength="50.3" lengthAdjust="spacingAndGlyphs">29 Jul 12:00</text>
<text x="709.0" y="887" fill="#000" stroke="#000" stroke-width="0.14" font-size="9.8px" text-anchor="start" textLength="50.3" lengthAdjust="spacingAndGlyphs">30 Jul 20:00</text>
<text x="773.0" y="887" fill="#000" stroke="#000" stroke-width="0.14" font-size="9.8px" text-anchor="start" textLength="51.3" lengthAdjust="spacingAndGlyphs">3 Aug 00:00</text>
<text x="837.0" y="887" fill="#000" stroke="#000" stroke-width="0.14" font-size="9.8px" text-anchor="start" textLength="51.3" lengthAdjust="spacingAndGlyphs">4 Aug 08:00</text>
<text x="901.0" y="887" fill="#000" stroke="#000" stroke-width="0.14" font-size="9.8px" text-anchor="start" textLength="51.3" lengthAdjust="spacingAndGlyphs">5 Aug 16:00</text>
<text x="965.0" y="887" fill="#000" stroke="#000" stroke-width="0.14" font-size="9.8px" text-anchor="start" textLength="51.3" lengthAdjust="spacingAndGlyphs">7 Aug 00:00</text>
<text x="1029.0" y="887" fill="#000" stroke="#000" stroke-width="0.14" font-size="9.8px" text-anchor="start" textLength="56.3" lengthAdjust="spacingAndGlyphs">10 Aug 04:00</text>
<text x="1093.0" y="887" fill="#000" stroke="#000" stroke-width="0.14" font-size="9.8px" text-anchor="start" textLength="56.3" lengthAdjust="spacingAndGlyphs">11 Aug 12:00</text>
<text x="1157.0" y="887" fill="#000" stroke="#000" stroke-width="0.14" font-size="9.8px" text-anchor="start" textLength="56.3" lengthAdjust="spacingAndGlyphs">12 Aug 20:00</text>
<text x="1221.0" y="887" fill="#000" stroke="#000" stroke-width="0.14" font-size="9.8px" text-anchor="start" textLength="56.3" lengthAdjust="spacingAndGlyphs">14 Aug 04:00</text>
<text x="1285.0" y="887" fill="#000" stroke="#000" stroke-width="0.14" font-size="9.8px" text-anchor="start" textLength="56.3" lengthAdjust="spacingAndGlyphs">17 Aug 08:00</text>
<text x="1349.0" y="887" fill="#000" stroke="#000" stroke-width="0.14" font-size="9.8px" text-anchor="start" textLength="56.3" lengthAdjust="spacingAndGlyphs">18 Aug 16:00</text>
<text x="1413.0" y="887" fill="#000" stroke="#000" stroke-width="0.14" font-size="9.8px" text-anchor="start" textLength="56.3" lengthAdjust="spacingAndGlyphs">20 Aug 00:00</text>
<text x="1477.0" y="887" fill="#000" stroke="#000" stroke-width="0.14" font-size="9.8px" text-anchor="start" textLength="56.3" lengthAdjust="spacingAndGlyphs">21 Aug 08:00</text>
<text x="1541.0" y="887" fill="#000" stroke="#000" stroke-width="0.14" font-size="9.8px" text-anchor="start" textLength="56.3" lengthAdjust="spacingAndGlyphs">24 Aug 12:00</text>
<text x="1605.0" y="887" fill="#000" stroke="#000" stroke-width="0.14" font-size="9.8px" text-anchor="start" textLength="56.3" lengthAdjust="spacingAndGlyphs">25 Aug 20:00</text>
<text x="1669.0" y="887" fill="#000" stroke="#000" stroke-width="0.14" font-size="9.8px" text-anchor="start" textLength="56.3" lengthAdjust="spacingAndGlyphs">27 Aug 00:00</text>
</svg></body></html>
